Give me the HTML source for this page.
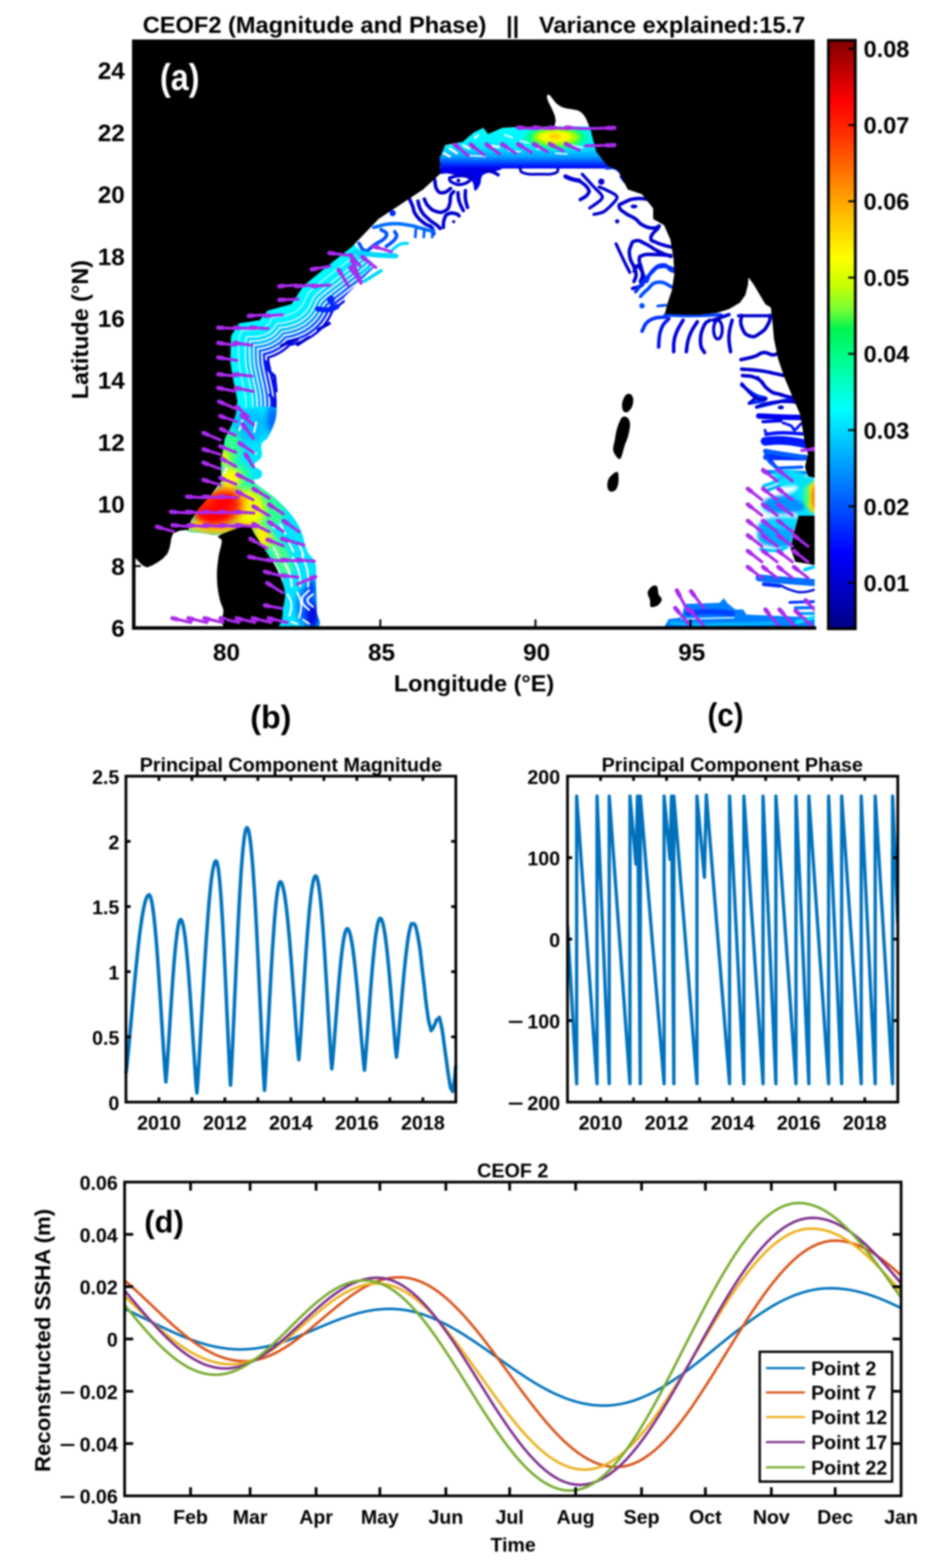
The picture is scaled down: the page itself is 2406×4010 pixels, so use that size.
<!DOCTYPE html>
<html lang="en"><head><meta charset="utf-8"><title>CEOF2 figure</title>
<style>html,body{margin:0;padding:0;background:#fff}body{width:2406px;height:4010px}svg{display:block;font-family:'Liberation Sans', Arial, Helvetica, sans-serif}</style>
</head><body>
<svg width="2406" height="4010" viewBox="0 0 2406 4010">
<defs><filter id="soft" color-interpolation-filters="sRGB" x="-2%" y="-2%" width="104%" height="104%" filterUnits="userSpaceOnUse" primitiveUnits="userSpaceOnUse"><feGaussianBlur stdDeviation="2.3"/></filter></defs>
<rect width="2406" height="4010" fill="#fff"/>
<g filter="url(#soft)">
<clipPath id="cm"><rect x="338" y="101" width="1745" height="1505"/></clipPath>
<g clip-path="url(#cm)">
<g id="band">
<defs>
<filter id="b8" color-interpolation-filters="sRGB" x="300" y="80" width="1800" height="1560" filterUnits="userSpaceOnUse"><feGaussianBlur stdDeviation="8"/></filter>
<filter id="b4" color-interpolation-filters="sRGB" x="300" y="80" width="1800" height="1560" filterUnits="userSpaceOnUse"><feGaussianBlur stdDeviation="4"/></filter>
<linearGradient id="gN" x1="0" y1="0" x2="0" y2="1"><stop offset="0" stop-color="#00ffff"/><stop offset="0.5" stop-color="#00ecff"/><stop offset="0.72" stop-color="#00a0ff"/><stop offset="0.9" stop-color="#0030ff"/><stop offset="1" stop-color="#0000f0"/></linearGradient>
</defs>
<clipPath id="cA"><path d="M560 800 L905 625 L960 680 L880 760 L900 900 L760 1070 L560 1070 Z"/></clipPath>
<g clip-path="url(#cA)">
<path d="M1010.0 530.0 C1001.6 536.0 990.0 539.8 968.0 560.0 C946.0 580.2 925.2 607.6 900.0 631.0 C874.8 654.4 866.6 657.2 842.0 677.0 C817.4 696.8 796.4 709.8 777.0 730.0 C757.6 750.2 763.6 765.1 745.0 778.0 C726.4 790.9 700.2 786.3 684.0 794.5 C667.8 802.7 678.6 812.5 664.0 819.0 C649.4 825.5 625.6 819.0 611.0 827.0 C596.4 835.0 595.4 839.6 591.0 859.0 C586.6 878.4 588.2 903.0 589.0 924.0 C589.8 945.0 591.4 943.8 595.0 964.0 C598.6 984.2 605.4 1005.8 607.0 1025.0 C608.6 1044.2 605.2 1048.0 603.0 1060.0 C600.8 1072.0 597.4 1080.0 596.0 1085.0" fill="none" stroke="#0000e0" stroke-width="200.2" stroke-linecap="butt" stroke-linejoin="round"/>
<path d="M1010.0 530.0 C1001.6 536.0 990.0 539.8 968.0 560.0 C946.0 580.2 925.2 607.6 900.0 631.0 C874.8 654.4 866.6 657.2 842.0 677.0 C817.4 696.8 796.4 709.8 777.0 730.0 C757.6 750.2 763.6 765.1 745.0 778.0 C726.4 790.9 700.2 786.3 684.0 794.5 C667.8 802.7 678.6 812.5 664.0 819.0 C649.4 825.5 625.6 819.0 611.0 827.0 C596.4 835.0 595.4 839.6 591.0 859.0 C586.6 878.4 588.2 903.0 589.0 924.0 C589.8 945.0 591.4 943.8 595.0 964.0 C598.6 984.2 605.4 1005.8 607.0 1025.0 C608.6 1044.2 605.2 1048.0 603.0 1060.0 C600.8 1072.0 597.4 1080.0 596.0 1085.0" fill="none" stroke="#fff" stroke-width="188.1" stroke-linecap="butt" stroke-linejoin="round"/>
<path d="M1010.0 530.0 C1001.6 536.0 990.0 539.8 968.0 560.0 C946.0 580.2 925.2 607.6 900.0 631.0 C874.8 654.4 866.6 657.2 842.0 677.0 C817.4 696.8 796.4 709.8 777.0 730.0 C757.6 750.2 763.6 765.1 745.0 778.0 C726.4 790.9 700.2 786.3 684.0 794.5 C667.8 802.7 678.6 812.5 664.0 819.0 C649.4 825.5 625.6 819.0 611.0 827.0 C596.4 835.0 595.4 839.6 591.0 859.0 C586.6 878.4 588.2 903.0 589.0 924.0 C589.8 945.0 591.4 943.8 595.0 964.0 C598.6 984.2 605.4 1005.8 607.0 1025.0 C608.6 1044.2 605.2 1048.0 603.0 1060.0 C600.8 1072.0 597.4 1080.0 596.0 1085.0" fill="none" stroke="#0028ff" stroke-width="179.3" stroke-linecap="butt" stroke-linejoin="round"/>
<path d="M1010.0 530.0 C1001.6 536.0 990.0 539.8 968.0 560.0 C946.0 580.2 925.2 607.6 900.0 631.0 C874.8 654.4 866.6 657.2 842.0 677.0 C817.4 696.8 796.4 709.8 777.0 730.0 C757.6 750.2 763.6 765.1 745.0 778.0 C726.4 790.9 700.2 786.3 684.0 794.5 C667.8 802.7 678.6 812.5 664.0 819.0 C649.4 825.5 625.6 819.0 611.0 827.0 C596.4 835.0 595.4 839.6 591.0 859.0 C586.6 878.4 588.2 903.0 589.0 924.0 C589.8 945.0 591.4 943.8 595.0 964.0 C598.6 984.2 605.4 1005.8 607.0 1025.0 C608.6 1044.2 605.2 1048.0 603.0 1060.0 C600.8 1072.0 597.4 1080.0 596.0 1085.0" fill="none" stroke="#fff" stroke-width="167.2" stroke-linecap="butt" stroke-linejoin="round"/>
<path d="M1010.0 530.0 C1001.6 536.0 990.0 539.8 968.0 560.0 C946.0 580.2 925.2 607.6 900.0 631.0 C874.8 654.4 866.6 657.2 842.0 677.0 C817.4 696.8 796.4 709.8 777.0 730.0 C757.6 750.2 763.6 765.1 745.0 778.0 C726.4 790.9 700.2 786.3 684.0 794.5 C667.8 802.7 678.6 812.5 664.0 819.0 C649.4 825.5 625.6 819.0 611.0 827.0 C596.4 835.0 595.4 839.6 591.0 859.0 C586.6 878.4 588.2 903.0 589.0 924.0 C589.8 945.0 591.4 943.8 595.0 964.0 C598.6 984.2 605.4 1005.8 607.0 1025.0 C608.6 1044.2 605.2 1048.0 603.0 1060.0 C600.8 1072.0 597.4 1080.0 596.0 1085.0" fill="none" stroke="#0060ff" stroke-width="158.4" stroke-linecap="butt" stroke-linejoin="round"/>
<path d="M1010.0 530.0 C1001.6 536.0 990.0 539.8 968.0 560.0 C946.0 580.2 925.2 607.6 900.0 631.0 C874.8 654.4 866.6 657.2 842.0 677.0 C817.4 696.8 796.4 709.8 777.0 730.0 C757.6 750.2 763.6 765.1 745.0 778.0 C726.4 790.9 700.2 786.3 684.0 794.5 C667.8 802.7 678.6 812.5 664.0 819.0 C649.4 825.5 625.6 819.0 611.0 827.0 C596.4 835.0 595.4 839.6 591.0 859.0 C586.6 878.4 588.2 903.0 589.0 924.0 C589.8 945.0 591.4 943.8 595.0 964.0 C598.6 984.2 605.4 1005.8 607.0 1025.0 C608.6 1044.2 605.2 1048.0 603.0 1060.0 C600.8 1072.0 597.4 1080.0 596.0 1085.0" fill="none" stroke="#fff" stroke-width="146.3" stroke-linecap="butt" stroke-linejoin="round"/>
<path d="M1010.0 530.0 C1001.6 536.0 990.0 539.8 968.0 560.0 C946.0 580.2 925.2 607.6 900.0 631.0 C874.8 654.4 866.6 657.2 842.0 677.0 C817.4 696.8 796.4 709.8 777.0 730.0 C757.6 750.2 763.6 765.1 745.0 778.0 C726.4 790.9 700.2 786.3 684.0 794.5 C667.8 802.7 678.6 812.5 664.0 819.0 C649.4 825.5 625.6 819.0 611.0 827.0 C596.4 835.0 595.4 839.6 591.0 859.0 C586.6 878.4 588.2 903.0 589.0 924.0 C589.8 945.0 591.4 943.8 595.0 964.0 C598.6 984.2 605.4 1005.8 607.0 1025.0 C608.6 1044.2 605.2 1048.0 603.0 1060.0 C600.8 1072.0 597.4 1080.0 596.0 1085.0" fill="none" stroke="#0090ff" stroke-width="137.5" stroke-linecap="butt" stroke-linejoin="round"/>
<path d="M1010.0 530.0 C1001.6 536.0 990.0 539.8 968.0 560.0 C946.0 580.2 925.2 607.6 900.0 631.0 C874.8 654.4 866.6 657.2 842.0 677.0 C817.4 696.8 796.4 709.8 777.0 730.0 C757.6 750.2 763.6 765.1 745.0 778.0 C726.4 790.9 700.2 786.3 684.0 794.5 C667.8 802.7 678.6 812.5 664.0 819.0 C649.4 825.5 625.6 819.0 611.0 827.0 C596.4 835.0 595.4 839.6 591.0 859.0 C586.6 878.4 588.2 903.0 589.0 924.0 C589.8 945.0 591.4 943.8 595.0 964.0 C598.6 984.2 605.4 1005.8 607.0 1025.0 C608.6 1044.2 605.2 1048.0 603.0 1060.0 C600.8 1072.0 597.4 1080.0 596.0 1085.0" fill="none" stroke="#fff" stroke-width="125.4" stroke-linecap="butt" stroke-linejoin="round"/>
<path d="M1010.0 530.0 C1001.6 536.0 990.0 539.8 968.0 560.0 C946.0 580.2 925.2 607.6 900.0 631.0 C874.8 654.4 866.6 657.2 842.0 677.0 C817.4 696.8 796.4 709.8 777.0 730.0 C757.6 750.2 763.6 765.1 745.0 778.0 C726.4 790.9 700.2 786.3 684.0 794.5 C667.8 802.7 678.6 812.5 664.0 819.0 C649.4 825.5 625.6 819.0 611.0 827.0 C596.4 835.0 595.4 839.6 591.0 859.0 C586.6 878.4 588.2 903.0 589.0 924.0 C589.8 945.0 591.4 943.8 595.0 964.0 C598.6 984.2 605.4 1005.8 607.0 1025.0 C608.6 1044.2 605.2 1048.0 603.0 1060.0 C600.8 1072.0 597.4 1080.0 596.0 1085.0" fill="none" stroke="#00b8ff" stroke-width="117.7" stroke-linecap="butt" stroke-linejoin="round"/>
<path d="M1010.0 530.0 C1001.6 536.0 990.0 539.8 968.0 560.0 C946.0 580.2 925.2 607.6 900.0 631.0 C874.8 654.4 866.6 657.2 842.0 677.0 C817.4 696.8 796.4 709.8 777.0 730.0 C757.6 750.2 763.6 765.1 745.0 778.0 C726.4 790.9 700.2 786.3 684.0 794.5 C667.8 802.7 678.6 812.5 664.0 819.0 C649.4 825.5 625.6 819.0 611.0 827.0 C596.4 835.0 595.4 839.6 591.0 859.0 C586.6 878.4 588.2 903.0 589.0 924.0 C589.8 945.0 591.4 943.8 595.0 964.0 C598.6 984.2 605.4 1005.8 607.0 1025.0 C608.6 1044.2 605.2 1048.0 603.0 1060.0 C600.8 1072.0 597.4 1080.0 596.0 1085.0" fill="none" stroke="#fff" stroke-width="104.5" stroke-linecap="butt" stroke-linejoin="round"/>
<path d="M1010.0 530.0 C1001.6 536.0 990.0 539.8 968.0 560.0 C946.0 580.2 925.2 607.6 900.0 631.0 C874.8 654.4 866.6 657.2 842.0 677.0 C817.4 696.8 796.4 709.8 777.0 730.0 C757.6 750.2 763.6 765.1 745.0 778.0 C726.4 790.9 700.2 786.3 684.0 794.5 C667.8 802.7 678.6 812.5 664.0 819.0 C649.4 825.5 625.6 819.0 611.0 827.0 C596.4 835.0 595.4 839.6 591.0 859.0 C586.6 878.4 588.2 903.0 589.0 924.0 C589.8 945.0 591.4 943.8 595.0 964.0 C598.6 984.2 605.4 1005.8 607.0 1025.0 C608.6 1044.2 605.2 1048.0 603.0 1060.0 C600.8 1072.0 597.4 1080.0 596.0 1085.0" fill="none" stroke="#00d8ff" stroke-width="96.8" stroke-linecap="butt" stroke-linejoin="round"/>
<path d="M1010.0 530.0 C1001.6 536.0 990.0 539.8 968.0 560.0 C946.0 580.2 925.2 607.6 900.0 631.0 C874.8 654.4 866.6 657.2 842.0 677.0 C817.4 696.8 796.4 709.8 777.0 730.0 C757.6 750.2 763.6 765.1 745.0 778.0 C726.4 790.9 700.2 786.3 684.0 794.5 C667.8 802.7 678.6 812.5 664.0 819.0 C649.4 825.5 625.6 819.0 611.0 827.0 C596.4 835.0 595.4 839.6 591.0 859.0 C586.6 878.4 588.2 903.0 589.0 924.0 C589.8 945.0 591.4 943.8 595.0 964.0 C598.6 984.2 605.4 1005.8 607.0 1025.0 C608.6 1044.2 605.2 1048.0 603.0 1060.0 C600.8 1072.0 597.4 1080.0 596.0 1085.0" fill="none" stroke="#e8ffff" stroke-width="81.4" stroke-linecap="butt" stroke-linejoin="round"/>
<path d="M1010.0 530.0 C1001.6 536.0 990.0 539.8 968.0 560.0 C946.0 580.2 925.2 607.6 900.0 631.0 C874.8 654.4 866.6 657.2 842.0 677.0 C817.4 696.8 796.4 709.8 777.0 730.0 C757.6 750.2 763.6 765.1 745.0 778.0 C726.4 790.9 700.2 786.3 684.0 794.5 C667.8 802.7 678.6 812.5 664.0 819.0 C649.4 825.5 625.6 819.0 611.0 827.0 C596.4 835.0 595.4 839.6 591.0 859.0 C586.6 878.4 588.2 903.0 589.0 924.0 C589.8 945.0 591.4 943.8 595.0 964.0 C598.6 984.2 605.4 1005.8 607.0 1025.0 C608.6 1044.2 605.2 1048.0 603.0 1060.0 C600.8 1072.0 597.4 1080.0 596.0 1085.0" fill="none" stroke="#00f0ff" stroke-width="74.8" stroke-linecap="butt" stroke-linejoin="round"/>
<path d="M1010.0 530.0 C1001.6 536.0 990.0 539.8 968.0 560.0 C946.0 580.2 925.2 607.6 900.0 631.0 C874.8 654.4 866.6 657.2 842.0 677.0 C817.4 696.8 796.4 709.8 777.0 730.0 C757.6 750.2 763.6 765.1 745.0 778.0 C726.4 790.9 700.2 786.3 684.0 794.5 C667.8 802.7 678.6 812.5 664.0 819.0 C649.4 825.5 625.6 819.0 611.0 827.0 C596.4 835.0 595.4 839.6 591.0 859.0 C586.6 878.4 588.2 903.0 589.0 924.0 C589.8 945.0 591.4 943.8 595.0 964.0 C598.6 984.2 605.4 1005.8 607.0 1025.0 C608.6 1044.2 605.2 1048.0 603.0 1060.0 C600.8 1072.0 597.4 1080.0 596.0 1085.0" fill="none" stroke="#c8ffff" stroke-width="46.2" stroke-linecap="butt" stroke-linejoin="round"/>
<path d="M1010.0 530.0 C1001.6 536.0 990.0 539.8 968.0 560.0 C946.0 580.2 925.2 607.6 900.0 631.0 C874.8 654.4 866.6 657.2 842.0 677.0 C817.4 696.8 796.4 709.8 777.0 730.0 C757.6 750.2 763.6 765.1 745.0 778.0 C726.4 790.9 700.2 786.3 684.0 794.5 C667.8 802.7 678.6 812.5 664.0 819.0 C649.4 825.5 625.6 819.0 611.0 827.0 C596.4 835.0 595.4 839.6 591.0 859.0 C586.6 878.4 588.2 903.0 589.0 924.0 C589.8 945.0 591.4 943.8 595.0 964.0 C598.6 984.2 605.4 1005.8 607.0 1025.0 C608.6 1044.2 605.2 1048.0 603.0 1060.0 C600.8 1072.0 597.4 1080.0 596.0 1085.0" fill="none" stroke="#00f8ff" stroke-width="40.7" stroke-linecap="butt" stroke-linejoin="round"/>
</g>
<ellipse cx="846.0" cy="766.0" rx="10.0" ry="10.0" fill="#0028ff"/>
<path d="M812.0 790.0 C819.5 790.5 826.7 793.6 840.0 792.0 C853.3 790.4 856.1 786.1 862.0 784.0" fill="none" stroke="#0020ff" stroke-width="13.0" stroke-linecap="round" stroke-linejoin="round"/>
<path d="M846.0 770.0 L850.0 784.0" fill="none" stroke="#0028ff" stroke-width="9.0" stroke-linecap="round" stroke-linejoin="round"/>
<path d="M813.5 843.0 L841.8 827.0" fill="none" stroke="#0000d0" stroke-width="8.0" stroke-linecap="round" stroke-linejoin="round"/>
<path d="M761.0 881.4 L789.0 863.0" fill="none" stroke="#0000d0" stroke-width="8.0" stroke-linecap="round" stroke-linejoin="round"/>
<path d="M720.0 884.0 L742.0 874.0" fill="none" stroke="#0000d0" stroke-width="8.0" stroke-linecap="round" stroke-linejoin="round"/>
<path d="M740.0 876.0 L760.0 868.0" fill="none" stroke="#0000d0" stroke-width="8.0" stroke-linecap="round" stroke-linejoin="round"/>
<path d="M680.0 925.0 C681.6 930.3 680.7 935.7 686.0 945.0 C691.3 954.3 696.3 956.0 700.0 960.0" fill="none" stroke="#0010e8" stroke-width="8.0" stroke-linecap="round" stroke-linejoin="round"/>
<path d="M702.0 962.0 L706.0 1000.0" fill="none" stroke="#0010e8" stroke-width="8.0" stroke-linecap="round" stroke-linejoin="round"/>
<path d="M690.0 1010.0 C692.7 1015.3 700.0 1019.3 700.0 1030.0 C700.0 1040.7 692.7 1044.7 690.0 1050.0" fill="none" stroke="#0010e8" stroke-width="8.0" stroke-linecap="round" stroke-linejoin="round"/>
<clipPath id="cS"><path d="M603.0 1050.0 C582.8 1058.4 597.8 1068.2 591.0 1082.0 C584.2 1095.8 574.0 1101.8 569.0 1119.0 C564.0 1136.2 567.0 1154.0 566.0 1168.0 C565.0 1182.0 563.4 1178.2 564.0 1189.0 C564.6 1199.8 570.2 1210.6 569.0 1222.0 C567.8 1233.4 566.0 1235.2 558.0 1246.0 C550.0 1256.8 540.2 1264.6 529.0 1276.0 C517.8 1287.4 510.2 1292.2 502.0 1303.0 C493.8 1313.8 492.8 1319.2 488.0 1330.0 C483.2 1340.8 471.6 1350.2 478.0 1357.0 C484.4 1363.8 503.6 1361.8 520.0 1364.0 C536.4 1366.2 542.6 1370.6 560.0 1368.0 C577.4 1365.4 591.9 1356.0 607.0 1351.0 C622.1 1346.0 626.6 1339.8 635.6 1343.0 C644.6 1346.2 643.7 1354.9 651.8 1367.0 C659.9 1379.1 665.6 1387.5 676.0 1403.7 C686.4 1419.9 695.1 1431.8 704.0 1448.0 C712.9 1464.2 715.6 1470.7 720.5 1484.5 C725.4 1498.3 727.8 1503.8 728.6 1517.0 C729.4 1530.2 730.2 1532.9 724.5 1550.7 C718.8 1568.5 683.3 1594.9 700.0 1606.0 C716.7 1617.1 786.0 1615.2 808.0 1606.0 C830.0 1596.8 810.0 1583.2 810.0 1560.0 C810.0 1536.8 808.8 1514.0 808.0 1490.0 C807.2 1466.0 810.6 1456.4 806.0 1440.0 C801.4 1423.6 792.4 1424.8 785.0 1408.0 C777.6 1391.2 777.6 1375.0 769.0 1356.0 C760.4 1337.0 756.0 1330.2 742.0 1313.0 C728.0 1295.8 717.4 1286.2 699.0 1270.0 C680.6 1253.8 656.6 1241.6 650.0 1232.0 C643.4 1222.4 662.2 1227.2 666.0 1222.0 C669.8 1216.8 672.2 1212.6 669.0 1206.0 C665.8 1199.4 650.0 1196.6 650.0 1189.0 C650.0 1181.4 665.2 1178.6 669.0 1168.0 C672.8 1157.4 665.2 1146.8 669.0 1136.0 C672.8 1125.2 680.4 1129.2 688.0 1114.0 C695.6 1098.8 706.2 1074.8 707.0 1060.0 C707.8 1045.2 712.8 1042.0 692.0 1040.0 C671.2 1038.0 623.2 1041.6 603.0 1050.0 Z"/></clipPath>
<g clip-path="url(#cS)">
<rect x="440" y="1030" width="400" height="590" fill="#00e4ff"/>
<g filter="url(#b8)">
<ellipse cx="785" cy="1550" rx="26" ry="50" fill="#0060ff" transform="rotate(0 785 1550)"/>
<ellipse cx="800" cy="1575" rx="16" ry="35" fill="#0000e0" transform="rotate(0 800 1575)"/>
<ellipse cx="796" cy="1505" rx="12" ry="25" fill="#0030f0" transform="rotate(0 796 1505)"/>
<ellipse cx="697" cy="1072" rx="14" ry="36" fill="#0060ff" transform="rotate(0 697 1072)"/>
<ellipse cx="640" cy="1090" rx="45" ry="40" fill="#00c0ff" transform="rotate(0 640 1090)"/>
<ellipse cx="590" cy="1150" rx="26" ry="50" fill="#30ff90" transform="rotate(5 590 1150)"/>
<ellipse cx="612" cy="1215" rx="30" ry="30" fill="#20ffa0" transform="rotate(0 612 1215)"/>
<ellipse cx="670" cy="1290" rx="40" ry="70" fill="#30ff90" transform="rotate(-45 670 1290)"/>
<ellipse cx="715" cy="1420" rx="22" ry="60" fill="#50ff80" transform="rotate(-25 715 1420)"/>
<ellipse cx="575" cy="1170" rx="14" ry="22" fill="#e0ff00" transform="rotate(0 575 1170)"/>
<ellipse cx="590" cy="1222" rx="28" ry="26" fill="#ffff00" transform="rotate(0 590 1222)"/>
<ellipse cx="632" cy="1300" rx="45" ry="50" fill="#f0ff00" transform="rotate(-30 632 1300)"/>
<ellipse cx="672" cy="1372" rx="22" ry="30" fill="#fff000" transform="rotate(-30 672 1372)"/>
<ellipse cx="560" cy="1296" rx="70" ry="52" fill="#ff9800" transform="rotate(-15 560 1296)"/>
<ellipse cx="556" cy="1300" rx="58" ry="40" fill="#ff2000" transform="rotate(-18 556 1300)"/>
<ellipse cx="545" cy="1318" rx="44" ry="20" fill="#ff0000" transform="rotate(-5 545 1318)"/>
<ellipse cx="575" cy="1280" rx="30" ry="18" fill="#ff0000" transform="rotate(-30 575 1280)"/>
<ellipse cx="500" cy="1345" rx="30" ry="14" fill="#ffe000" transform="rotate(0 500 1345)"/>
<ellipse cx="560" cy="1356" rx="60" ry="12" fill="#ffc000" transform="rotate(0 560 1356)"/>
<ellipse cx="620" cy="1350" rx="30" ry="12" fill="#ffa000" transform="rotate(0 620 1350)"/>
</g>
<path d="M700.0 1440.0 C704.3 1448.0 710.1 1454.0 716.0 1470.0 C721.9 1486.0 720.4 1492.0 722.0 1500.0" fill="none" stroke="#fff" stroke-width="5.0" stroke-linecap="round" stroke-linejoin="round"/>
<path d="M722.0 1430.0 C726.8 1439.3 733.6 1446.3 740.0 1465.0 C746.4 1483.7 744.4 1490.7 746.0 1500.0" fill="none" stroke="#fff" stroke-width="5.0" stroke-linecap="round" stroke-linejoin="round"/>
<path d="M748.0 1425.0 C752.3 1434.9 758.7 1442.0 764.0 1462.0 C769.3 1482.0 766.9 1489.9 768.0 1500.0" fill="none" stroke="#fff" stroke-width="5.0" stroke-linecap="round" stroke-linejoin="round"/>
<path d="M772.0 1420.0 C775.7 1430.7 781.7 1438.7 786.0 1460.0 C790.3 1481.3 787.5 1489.3 788.0 1500.0" fill="none" stroke="#fff" stroke-width="5.0" stroke-linecap="round" stroke-linejoin="round"/>
<path d="M735.0 1520.0 C737.7 1526.7 743.7 1530.3 745.0 1545.0 C746.3 1559.7 741.3 1567.0 740.0 1575.0" fill="none" stroke="#fff" stroke-width="5.0" stroke-linecap="round" stroke-linejoin="round"/>
<path d="M760.0 1515.0 C762.7 1523.0 768.7 1527.7 770.0 1545.0 C771.3 1562.3 766.3 1570.7 765.0 1580.0" fill="none" stroke="#fff" stroke-width="5.0" stroke-linecap="round" stroke-linejoin="round"/>
<path d="M790.0 1510.0 C785.2 1516.7 772.0 1521.7 772.0 1535.0 C772.0 1548.3 785.2 1553.3 790.0 1560.0" fill="none" stroke="#fff" stroke-width="5.0" stroke-linecap="round" stroke-linejoin="round"/>
<path d="M800.0 1520.0 C796.3 1524.0 786.0 1526.5 786.0 1535.0 C786.0 1543.5 796.3 1547.5 800.0 1552.0" fill="none" stroke="#fff" stroke-width="5.0" stroke-linecap="round" stroke-linejoin="round"/>
<path d="M700.0 1400.0 L712.0 1425.0" fill="none" stroke="#fff" stroke-width="5.0" stroke-linecap="round" stroke-linejoin="round"/>
<path d="M735.0 1380.0 L750.0 1410.0" fill="none" stroke="#fff" stroke-width="5.0" stroke-linecap="round" stroke-linejoin="round"/>
<path d="M764.0 1390.0 L776.0 1420.0" fill="none" stroke="#fff" stroke-width="5.0" stroke-linecap="round" stroke-linejoin="round"/>
<path d="M745.0 1590.0 L760.0 1596.0" fill="none" stroke="#fff" stroke-width="5.0" stroke-linecap="round" stroke-linejoin="round"/>
<path d="M775.0 1585.0 L790.0 1595.0" fill="none" stroke="#fff" stroke-width="5.0" stroke-linecap="round" stroke-linejoin="round"/>
<path d="M620.0 1075.0 L612.0 1100.0" fill="none" stroke="#fff" stroke-width="5.0" stroke-linecap="round" stroke-linejoin="round"/>
<path d="M655.0 1080.0 L650.0 1105.0" fill="none" stroke="#fff" stroke-width="5.0" stroke-linecap="round" stroke-linejoin="round"/>
<path d="M640.0 1150.0 L655.0 1160.0" fill="none" stroke="#fff" stroke-width="5.0" stroke-linecap="round" stroke-linejoin="round"/>
<path d="M580.0 1195.0 L575.0 1210.0" fill="none" stroke="#fff" stroke-width="5.0" stroke-linecap="round" stroke-linejoin="round"/>
<path d="M690.0 1330.0 L700.0 1350.0" fill="none" stroke="#fff" stroke-width="5.0" stroke-linecap="round" stroke-linejoin="round"/>
<path d="M716.0 1340.0 L730.0 1365.0" fill="none" stroke="#fff" stroke-width="5.0" stroke-linecap="round" stroke-linejoin="round"/>
</g>
<path d="M1122.0 392.0 L1140.0 372.0 L1183.0 363.0 L1211.0 339.0 L1235.6 327.0 L1248.0 343.0 L1284.0 327.0 L1320.0 325.0 L1417.5 323.0 L1507.0 323.0 L1527.0 371.0 L1552.0 422.0 L1560.0 431.0 L1127.0 431.0 L1120.0 410.0 Z" fill="url(#gN)"/>
<clipPath id="cN"><path d="M1122.0 392.0 L1140.0 372.0 L1183.0 363.0 L1211.0 339.0 L1235.6 327.0 L1248.0 343.0 L1284.0 327.0 L1320.0 325.0 L1417.5 323.0 L1507.0 323.0 L1527.0 371.0 L1552.0 422.0 L1560.0 431.0 L1127.0 431.0 L1120.0 410.0 Z"/></clipPath>
<g clip-path="url(#cN)" filter="url(#b4)">
<ellipse cx="1422" cy="352" rx="80" ry="30" fill="#00ff90"/>
<ellipse cx="1422" cy="351" rx="60" ry="22" fill="#a0ff00"/>
<ellipse cx="1420" cy="350" rx="42" ry="15" fill="#ffff00"/>
<ellipse cx="1418" cy="349" rx="16" ry="7" fill="#ffc800"/>
</g>
<path d="M1290.0 345.0 L1310.0 352.0" fill="none" stroke="#e8ffff" stroke-width="4.0" stroke-linecap="round" stroke-linejoin="round"/>
<path d="M1330.0 360.0 L1352.0 366.0" fill="none" stroke="#e8ffff" stroke-width="4.0" stroke-linecap="round" stroke-linejoin="round"/>
<path d="M1465.0 372.0 L1490.0 378.0" fill="none" stroke="#e8ffff" stroke-width="4.0" stroke-linecap="round" stroke-linejoin="round"/>
<path d="M1372.0 380.0 L1395.0 384.0" fill="none" stroke="#e8ffff" stroke-width="4.0" stroke-linecap="round" stroke-linejoin="round"/>
<path d="M1300.0 385.0 L1330.0 388.0" fill="none" stroke="#e8ffff" stroke-width="4.0" stroke-linecap="round" stroke-linejoin="round"/>
<path d="M1200.0 398.0 L1240.0 400.0" fill="none" stroke="#e8ffff" stroke-width="4.0" stroke-linecap="round" stroke-linejoin="round"/>
<path d="M1420.0 392.0 L1450.0 394.0" fill="none" stroke="#e8ffff" stroke-width="4.0" stroke-linecap="round" stroke-linejoin="round"/>
<path d="M1135.0 392.0 L1150.0 400.0" fill="none" stroke="#fff" stroke-width="6.0" stroke-linecap="round" stroke-linejoin="round"/>
<path d="M1150.0 380.0 L1168.0 392.0" fill="none" stroke="#fff" stroke-width="6.0" stroke-linecap="round" stroke-linejoin="round"/>
<path d="M1185.0 372.0 L1200.0 380.0" fill="none" stroke="#fff" stroke-width="6.0" stroke-linecap="round" stroke-linejoin="round"/>
<path d="M1250.0 372.0 L1275.0 376.0" fill="none" stroke="#fff" stroke-width="6.0" stroke-linecap="round" stroke-linejoin="round"/>
<path d="M1215.0 352.0 L1222.0 346.0" fill="none" stroke="#fff" stroke-width="6.0" stroke-linecap="round" stroke-linejoin="round"/>
<path d="M1122.6 430.8 C1148.6 428.5 1260.1 428.1 1278.9 430.8 C1297.8 433.5 1244.3 440.2 1235.8 447.0 C1227.3 453.7 1231.3 464.5 1227.7 471.2 C1224.1 478.0 1218.3 489.2 1214.2 487.4 C1210.2 485.6 1214.2 467.6 1203.5 460.4 C1192.7 453.2 1163.0 447.0 1149.5 444.3 C1136.1 441.6 1127.1 446.5 1122.6 444.3 C1118.1 442.0 1096.5 433.0 1122.6 430.8 Z" fill="#0000e8"/>
<path d="M1149.5 455.0 C1156.7 453.6 1162.1 449.6 1176.5 449.6 C1190.9 449.6 1202.0 449.3 1203.5 455.0 C1204.9 460.8 1194.8 468.3 1181.9 471.2 C1168.9 474.1 1163.6 470.1 1154.9 465.8 C1146.3 461.5 1151.0 457.9 1149.5 455.0" fill="none" stroke="#0000cc" stroke-width="8.0" stroke-linecap="round" stroke-linejoin="round"/>
<ellipse cx="1172.0" cy="462.0" rx="5.0" ry="5.0" fill="#0000cc"/>
<path d="M1047.1 508.9 C1049.3 514.0 1050.9 517.0 1055.2 527.8 C1059.5 538.6 1055.4 537.9 1063.3 549.4 C1071.2 560.9 1074.1 562.3 1084.9 570.9 C1095.6 579.6 1097.3 574.5 1103.7 581.7 C1110.2 588.9 1107.7 593.6 1109.1 597.9" fill="none" stroke="#0000cc" stroke-width="9.0" stroke-linecap="round" stroke-linejoin="round"/>
<path d="M1084.9 508.9 C1087.7 514.0 1087.0 519.2 1095.6 527.8 C1104.3 536.4 1105.7 538.4 1117.2 541.3 C1128.7 544.2 1130.1 543.6 1138.8 538.6 C1147.4 533.6 1145.9 532.5 1149.5 522.4 C1153.1 512.4 1149.4 509.5 1152.2 500.9 C1155.1 492.2 1158.2 493.0 1160.3 490.1" fill="none" stroke="#0000cc" stroke-width="9.0" stroke-linecap="round" stroke-linejoin="round"/>
<path d="M1068.7 514.3 C1070.8 520.8 1069.6 526.4 1076.8 538.6 C1084.0 550.8 1084.9 550.1 1095.6 560.2 C1106.4 570.2 1109.3 569.9 1117.2 576.3 C1125.1 582.8 1123.1 582.3 1125.3 584.4" fill="none" stroke="#0000cc" stroke-width="9.0" stroke-linecap="round" stroke-linejoin="round"/>
<path d="M1133.4 581.7 C1134.1 576.0 1132.5 569.5 1136.1 560.2 C1139.7 550.8 1138.9 550.3 1146.8 546.7 C1154.8 543.1 1158.5 545.2 1165.7 546.7 C1172.9 548.1 1171.6 550.6 1173.8 552.1" fill="none" stroke="#0000cc" stroke-width="9.0" stroke-linecap="round" stroke-linejoin="round"/>
<path d="M1171.1 492.8 C1171.8 498.5 1170.2 502.1 1173.8 514.3 C1177.4 526.6 1181.7 532.1 1184.6 538.6" fill="none" stroke="#0000cc" stroke-width="9.0" stroke-linecap="round" stroke-linejoin="round"/>
<path d="M1190.0 487.4 C1190.0 493.1 1188.5 497.4 1190.0 508.9 C1191.4 520.4 1193.9 524.8 1195.4 530.5" fill="none" stroke="#0000cc" stroke-width="9.0" stroke-linecap="round" stroke-linejoin="round"/>
<path d="M1111.8 460.4 C1113.2 466.9 1111.4 476.1 1117.2 484.7 C1122.9 493.3 1124.0 493.5 1133.4 492.8 C1142.7 492.1 1147.2 484.9 1152.2 482.0" fill="none" stroke="#0000cc" stroke-width="9.0" stroke-linecap="round" stroke-linejoin="round"/>
<path d="M1233.1 436.2 C1239.6 436.9 1246.6 436.0 1257.4 438.9 C1268.1 441.7 1269.2 444.8 1273.5 447.0" fill="none" stroke="#0000cc" stroke-width="9.0" stroke-linecap="round" stroke-linejoin="round"/>
<path d="M955.5 581.7 C967.7 579.2 976.9 573.7 1001.3 572.3 C1025.7 570.9 1027.7 573.5 1047.1 576.3 C1066.5 579.2 1057.5 578.8 1074.1 583.1 C1090.6 587.4 1099.8 590.0 1109.1 592.5" fill="none" stroke="#0070ff" stroke-width="9.0" stroke-linecap="round" stroke-linejoin="round"/>
<path d="M1063.3 587.1 L1061.9 606.0" fill="none" stroke="#0058ff" stroke-width="7.0" stroke-linecap="round" stroke-linejoin="round"/>
<path d="M1084.9 587.1 L1083.5 606.0" fill="none" stroke="#0058ff" stroke-width="7.0" stroke-linecap="round" stroke-linejoin="round"/>
<path d="M1106.4 587.1 L1105.1 606.0" fill="none" stroke="#0058ff" stroke-width="7.0" stroke-linecap="round" stroke-linejoin="round"/>
<ellipse cx="1004.0" cy="545.0" rx="8.0" ry="8.0" fill="#0030ff"/>
<ellipse cx="1160.0" cy="567.0" rx="4.0" ry="4.0" fill="#0000cc"/>
<path d="M974.3 587.1 C977.9 591.4 992.8 592.5 987.8 603.3 C982.8 614.1 969.8 617.5 955.5 627.5 C941.1 637.6 944.0 642.5 933.9 641.0 C923.8 639.6 922.0 627.2 917.7 622.2" fill="none" stroke="#0050ff" stroke-width="9.0" stroke-linecap="round" stroke-linejoin="round"/>
<path d="M1009.4 592.5 C1010.1 596.8 1017.8 598.6 1012.1 608.7 C1006.3 618.7 994.3 624.5 987.8 630.2" fill="none" stroke="#0050ff" stroke-width="9.0" stroke-linecap="round" stroke-linejoin="round"/>
<path d="M1004.0 638.3 C1009.0 634.7 1012.8 629.2 1022.9 624.9 C1032.9 620.5 1036.7 622.9 1041.7 622.2" fill="none" stroke="#00d8ff" stroke-width="8.0" stroke-linecap="round" stroke-linejoin="round"/>
<path d="M907.0 645.1 C921.3 646.9 932.8 649.3 960.9 651.8 C988.9 654.3 998.4 653.8 1012.1 654.5" fill="none" stroke="#00d8ff" stroke-width="13.0" stroke-linecap="round" stroke-linejoin="round"/>
<path d="M931.2 719.2 L974.3 692.2" fill="none" stroke="#00d8ff" stroke-width="9.0" stroke-linecap="round" stroke-linejoin="round"/>
<path d="M920.4 700.3 L942.0 684.2" fill="none" stroke="#00d8ff" stroke-width="9.0" stroke-linecap="round" stroke-linejoin="round"/>
<path d="M1329.6 430.7 C1332.5 433.9 1326.7 438.9 1340.4 442.8 C1354.1 446.7 1360.0 445.5 1380.9 445.5 C1401.8 445.5 1406.4 446.7 1418.6 442.8 C1430.8 438.9 1424.5 433.9 1426.7 430.7" fill="none" stroke="#0000cc" stroke-width="7.0" stroke-linecap="round" stroke-linejoin="round"/>
<path d="M1445.8 451.2 C1450.1 453.0 1452.7 455.1 1462.0 458.0 C1471.3 460.8 1475.8 460.9 1480.9 462.0" fill="none" stroke="#0000cc" stroke-width="11.0" stroke-linecap="round" stroke-linejoin="round"/>
<path d="M1480.9 462.0 C1486.6 467.0 1496.7 471.5 1502.4 480.9 C1508.2 490.2 1507.5 489.1 1502.4 497.0 C1497.4 504.9 1488.6 506.9 1483.6 510.5" fill="none" stroke="#0000cc" stroke-width="9.0" stroke-linecap="round" stroke-linejoin="round"/>
<path d="M1488.9 445.8 C1492.5 449.8 1509.1 467.6 1515.9 475.5 C1522.7 483.4 1541.2 497.6 1540.2 505.1 C1539.1 512.7 1512.1 528.5 1507.8 532.1" fill="none" stroke="#0000cc" stroke-width="8.0" stroke-linecap="round" stroke-linejoin="round"/>
<path d="M1532.1 478.2 C1534.6 479.2 1544.8 482.7 1550.9 486.3 C1557.1 489.8 1578.6 497.9 1577.9 505.1 C1577.2 512.3 1553.5 534.4 1545.6 540.2 C1537.6 545.9 1522.2 547.2 1518.6 548.2" fill="none" stroke="#0000cc" stroke-width="8.0" stroke-linecap="round" stroke-linejoin="round"/>
<ellipse cx="1537.5" cy="464.7" rx="8.0" ry="8.0" fill="#0000cc"/>
<path d="M1669.5 513.2 C1658.8 511.8 1649.2 506.4 1629.1 507.8 C1609.0 509.3 1606.3 512.8 1594.1 518.6 C1581.9 524.3 1581.9 522.2 1583.3 529.4 C1584.7 536.6 1588.7 537.6 1599.5 545.6 C1610.2 553.5 1612.2 551.1 1623.7 559.0 C1635.2 566.9 1630.4 568.7 1642.6 575.2 C1654.8 581.7 1658.0 582.6 1669.5 583.3 C1681.0 584.0 1681.4 579.3 1685.7 577.9" fill="none" stroke="#0000cc" stroke-width="9.0" stroke-linecap="round" stroke-linejoin="round"/>
<ellipse cx="1621.0" cy="528.0" rx="9.0" ry="5.0" fill="#0000cc"/>
<ellipse cx="1578.0" cy="566.0" rx="5.5" ry="5.5" fill="#0000cc"/>
<path d="M1683.0 583.3 C1678.0 589.8 1664.9 597.5 1664.2 607.5 C1663.4 617.6 1666.7 614.6 1680.3 621.0 C1694.0 627.5 1706.0 628.9 1715.4 631.8" fill="none" stroke="#0000cc" stroke-width="9.0" stroke-linecap="round" stroke-linejoin="round"/>
<path d="M1575.2 623.7 C1580.2 634.5 1584.7 644.7 1594.1 664.2 C1603.4 683.6 1605.9 687.9 1610.2 696.5" fill="none" stroke="#0000cc" stroke-width="8.0" stroke-linecap="round" stroke-linejoin="round"/>
<path d="M1715.4 656.1 C1706.7 652.5 1700.3 651.2 1683.0 642.6 C1665.8 634.0 1665.8 630.9 1650.7 623.7 C1635.6 616.5 1636.5 614.2 1626.4 615.6 C1616.4 617.1 1617.3 618.3 1612.9 629.1 C1608.6 639.9 1608.1 641.7 1610.2 656.1 C1612.4 670.4 1616.7 670.8 1621.0 683.0 C1625.3 695.2 1626.4 692.0 1626.4 701.9 C1626.4 711.7 1622.5 715.1 1621.0 719.9" fill="none" stroke="#0000cc" stroke-width="9.0" stroke-linecap="round" stroke-linejoin="round"/>
<path d="M1715.4 653.4 C1703.1 652.7 1688.9 650.7 1669.5 650.7 C1650.1 650.7 1651.9 649.8 1642.6 653.4 C1633.2 657.0 1635.2 655.5 1634.5 664.2 C1633.8 672.8 1637.7 674.9 1639.9 685.7 C1642.0 696.5 1643.3 695.5 1642.6 704.6 C1641.9 713.7 1638.6 715.8 1637.2 719.9" fill="none" stroke="#0000cc" stroke-width="9.0" stroke-linecap="round" stroke-linejoin="round"/>
<path d="M1734.2 695.1 C1729.2 694.1 1725.4 695.8 1715.4 691.1 C1705.3 686.4 1708.7 677.6 1696.5 677.6 C1684.3 677.6 1681.0 679.8 1669.5 691.1 C1658.0 702.4 1657.7 712.3 1653.4 719.9" fill="none" stroke="#0030ff" stroke-width="9.0" stroke-linecap="round" stroke-linejoin="round"/>
<path d="M1588.7 451.2 C1593.0 456.2 1594.1 462.2 1604.9 470.1 C1615.6 478.0 1622.6 478.0 1629.1 480.9" fill="none" stroke="#0000cc" stroke-width="9.0" stroke-linecap="round" stroke-linejoin="round"/>
<path d="M1680.3 532.1 C1679.6 537.1 1674.0 542.3 1677.6 550.9 C1681.2 559.6 1689.5 560.8 1693.8 564.4" fill="none" stroke="#0000cc" stroke-width="9.0" stroke-linecap="round" stroke-linejoin="round"/>
<path d="M1550.9 429.6 C1556.7 429.6 1562.4 426.1 1572.5 429.6 C1582.6 433.2 1584.4 439.5 1588.7 443.1" fill="none" stroke="#0030ff" stroke-width="9.0" stroke-linecap="round" stroke-linejoin="round"/>
<path d="M1621.3 693.4 C1624.5 690.2 1627.0 673.7 1633.4 681.3 C1639.9 688.8 1649.9 706.6 1645.6 721.7 C1641.2 736.8 1624.8 733.6 1617.3 737.9" fill="none" stroke="#0000cc" stroke-width="9.0" stroke-linecap="round" stroke-linejoin="round"/>
<path d="M1734.5 695.4 C1723.7 691.7 1713.5 679.7 1694.1 681.3 C1674.7 682.9 1680.1 684.3 1661.7 701.5 C1643.4 718.8 1635.0 734.1 1625.3 746.0" fill="none" stroke="#0030ff" stroke-width="9.0" stroke-linecap="round" stroke-linejoin="round"/>
<path d="M1718.3 733.9 C1708.6 730.6 1699.2 719.6 1681.9 721.7 C1664.7 723.9 1665.5 732.2 1653.6 741.9 C1641.8 751.6 1641.8 753.8 1637.5 758.1" fill="none" stroke="#0050ff" stroke-width="9.0" stroke-linecap="round" stroke-linejoin="round"/>
<ellipse cx="1641.5" cy="782.0" rx="7.0" ry="7.0" fill="#0050ff"/>
<path d="M1681.9 782.4 L1702.2 780.4" fill="none" stroke="#0050ff" stroke-width="7.0" stroke-linecap="round" stroke-linejoin="round"/>
<path d="M1700.1 805.4 C1716.8 806.0 1724.5 807.6 1762.8 807.4 C1801.1 807.3 1822.1 805.7 1843.7 805.0" fill="none" stroke="#0040ff" stroke-width="8.0" stroke-linecap="round" stroke-linejoin="round"/>
<path d="M1641.5 847.1 C1646.9 839.5 1645.6 828.5 1661.7 818.8 C1677.9 809.1 1691.4 812.8 1702.2 810.7" fill="none" stroke="#0030ff" stroke-width="9.0" stroke-linecap="round" stroke-linejoin="round"/>
<path d="M1684.0 887.5 C1685.6 875.6 1683.0 862.4 1690.0 843.0 C1697.0 823.6 1704.9 822.3 1710.2 814.7" fill="none" stroke="#0010f0" stroke-width="9.0" stroke-linecap="round" stroke-linejoin="round"/>
<path d="M1722.4 899.6 C1723.5 888.8 1719.9 880.8 1726.4 859.2 C1732.9 837.6 1741.2 829.5 1746.6 818.8" fill="none" stroke="#0000e0" stroke-width="9.0" stroke-linecap="round" stroke-linejoin="round"/>
<path d="M1754.7 899.6 C1756.9 888.8 1755.3 879.7 1762.8 859.2 C1770.4 838.7 1777.6 832.5 1783.0 822.8" fill="none" stroke="#0000cc" stroke-width="9.0" stroke-linecap="round" stroke-linejoin="round"/>
<path d="M1801.2 901.6 C1798.5 894.6 1791.6 893.2 1791.1 875.4 C1790.6 857.6 1792.7 850.0 1799.2 834.9 C1805.7 819.8 1811.1 823.1 1815.4 818.8" fill="none" stroke="#0000cc" stroke-width="9.0" stroke-linecap="round" stroke-linejoin="round"/>
<ellipse cx="1835.6" cy="843" rx="11" ry="24" fill="none" stroke="#0000cc" stroke-width="8"/>
<path d="M1823.5 818.8 L1863.9 804.6" fill="none" stroke="#0000cc" stroke-width="9.0" stroke-linecap="round" stroke-linejoin="round"/>
<path d="M1867.9 899.6 C1866.9 888.8 1862.8 880.8 1863.9 859.2 C1865.0 837.6 1869.8 829.5 1872.0 818.8" fill="none" stroke="#0000cc" stroke-width="9.0" stroke-linecap="round" stroke-linejoin="round"/>
<path d="M1896.2 806.6 C1896.2 814.2 1890.8 820.9 1896.2 834.9 C1901.6 849.0 1903.5 854.9 1916.4 859.2 C1929.4 863.5 1931.8 859.7 1944.7 851.1 C1957.7 842.5 1958.5 838.7 1965.0 826.8 C1971.4 815.0 1967.9 812.0 1969.0 806.6" fill="none" stroke="#0000cc" stroke-width="9.0" stroke-linecap="round" stroke-linejoin="round"/>
<path d="M1888.1 807.4 L1971.0 807.4" fill="none" stroke="#0000cc" stroke-width="8.0" stroke-linecap="round" stroke-linejoin="round"/>
<path d="M1894.2 919.8 C1903.4 917.7 1912.9 916.6 1928.6 911.8 C1944.2 906.9 1939.9 902.7 1952.8 901.6 C1965.8 900.6 1966.3 908.3 1977.1 907.7 C1987.9 907.2 1989.0 901.8 1993.3 899.6" fill="none" stroke="#0000cc" stroke-width="9.0" stroke-linecap="round" stroke-linejoin="round"/>
<path d="M1896.2 944.1 C1909.2 945.2 1921.0 944.9 1944.7 948.1 C1968.5 951.4 1969.5 953.0 1985.2 956.2 C2000.8 959.5 1998.5 959.2 2003.4 960.3" fill="none" stroke="#0000cc" stroke-width="9.0" stroke-linecap="round" stroke-linejoin="round"/>
<path d="M1898.3 960.3 C1908.5 962.4 1918.9 958.7 1936.7 968.4 C1954.5 978.1 1949.9 985.9 1965.0 996.7 C1980.1 1007.4 1977.1 1003.4 1993.3 1008.8 C2009.4 1014.2 2017.0 1014.7 2025.6 1016.9" fill="none" stroke="#0000cc" stroke-width="9.0" stroke-linecap="round" stroke-linejoin="round"/>
<path d="M1896.2 984.5 C1904.9 991.0 1912.4 999.1 1928.6 1008.8 C1944.7 1018.5 1960.1 1015.0 1956.9 1020.9 C1953.6 1026.9 1927.2 1028.3 1916.4 1031.0" fill="none" stroke="#0030ff" stroke-width="9.0" stroke-linecap="round" stroke-linejoin="round"/>
<path d="M1934.6 1041.1 C1948.1 1037.9 1957.7 1035.5 1985.2 1029.0 C2012.7 1022.5 2023.7 1020.1 2037.7 1016.9" fill="none" stroke="#0030ff" stroke-width="9.0" stroke-linecap="round" stroke-linejoin="round"/>
<path d="M1896.8 981.6 C1906.1 990.9 1915.3 1006.5 1931.8 1016.6 C1948.3 1026.7 1951.6 1018.6 1958.8 1019.3" fill="none" stroke="#0000cc" stroke-width="8.0" stroke-linecap="round" stroke-linejoin="round"/>
<path d="M1931.8 1018.0 L1915.6 1031.4" fill="none" stroke="#0000cc" stroke-width="8.0" stroke-linecap="round" stroke-linejoin="round"/>
<path d="M1937.2 965.4 C1945.8 974.7 1953.7 988.9 1969.5 1000.4 C1985.4 1011.9 1979.2 1002.8 1996.5 1008.5 C2013.7 1014.3 2024.2 1018.4 2034.2 1022.0" fill="none" stroke="#0000cc" stroke-width="8.0" stroke-linecap="round" stroke-linejoin="round"/>
<path d="M1934.5 1040.9 C1943.8 1038.0 1945.8 1033.7 1969.5 1030.1 C1993.3 1026.5 2004.0 1025.9 2023.5 1027.4 C2042.9 1028.8 2037.3 1033.3 2042.3 1035.5" fill="none" stroke="#0000cc" stroke-width="8.0" stroke-linecap="round" stroke-linejoin="round"/>
<ellipse cx="1996.5" cy="1042.0" rx="8.0" ry="5.0" fill="#0000cc"/>
<path d="M1939.9 1063.8 C1955.0 1064.5 1966.3 1065.4 1996.5 1066.5 C2026.7 1067.5 2038.0 1067.5 2053.1 1067.8" fill="none" stroke="#0000f0" stroke-width="14.0" stroke-linecap="round" stroke-linejoin="round"/>
<path d="M1950.7 1078.6 L1996.5 1075.9" fill="none" stroke="#0000f0" stroke-width="8.0" stroke-linecap="round" stroke-linejoin="round"/>
<path d="M2001.9 1081.3 C2004.0 1082.1 2020.5 1087.5 2023.5 1089.4 C2026.4 1091.3 2029.1 1100.7 2031.5 1100.2 C2034.0 1099.6 2046.1 1085.6 2047.7 1084.0" fill="none" stroke="#0010ff" stroke-width="7.0" stroke-linecap="round" stroke-linejoin="round"/>
<path d="M1956.1 1100.2 L1958.8 1110.9" fill="none" stroke="#0010ff" stroke-width="7.0" stroke-linecap="round" stroke-linejoin="round"/>
<path d="M1958.8 1110.9 C1968.8 1109.9 1972.1 1107.3 1996.5 1106.9 C2020.9 1106.5 2036.0 1108.9 2050.4 1109.6" fill="none" stroke="#0010ff" stroke-width="9.0" stroke-linecap="round" stroke-linejoin="round"/>
<path d="M1956.1 1128.5 C1970.4 1128.1 1979.1 1124.6 2010.0 1127.1 C2040.9 1129.6 2055.4 1135.0 2072.0 1137.9" fill="none" stroke="#0018ff" stroke-width="22.0" stroke-linecap="round" stroke-linejoin="round"/>
<path d="M1956.1 1154.1 C1958.9 1159.1 1958.9 1161.4 1966.8 1172.9 C1974.8 1184.4 1980.7 1190.7 1985.7 1197.2" fill="none" stroke="#0030ff" stroke-width="9.0" stroke-linecap="round" stroke-linejoin="round"/>
<path d="M1958.8 1168.9 L2058.5 1170.2" fill="none" stroke="#0030ff" stroke-width="15.0" stroke-linecap="round" stroke-linejoin="round"/>
<path d="M1985.7 1197.2 L2050.4 1194.5" fill="none" stroke="#0050ff" stroke-width="8.0" stroke-linecap="round" stroke-linejoin="round"/>
<path d="M1953.4 1206.6 L2058.5 1209.3" fill="none" stroke="#0080ff" stroke-width="10.0" stroke-linecap="round" stroke-linejoin="round"/>
<path d="M1961.5 1253.8 C1970.8 1250.2 1983.6 1246.8 1996.5 1240.3 C2009.4 1233.9 2006.4 1232.4 2010.0 1229.5" fill="none" stroke="#00c0ff" stroke-width="9.0" stroke-linecap="round" stroke-linejoin="round"/>
<g filter="url(#b4)">
<path d="M1977.1 1210.2 C1981.8 1203.5 2010.8 1200.8 2025.6 1202.2 C2040.4 1203.5 2056.3 1214.3 2066.0 1218.3 C2075.8 1222.4 2081.2 1208.9 2084.2 1226.4 C2087.3 1243.9 2091.3 1307.3 2084.2 1323.5 C2077.2 1339.6 2050.2 1326.1 2041.8 1323.5 C2033.4 1320.8 2039.8 1308.6 2033.7 1307.3 C2027.6 1305.9 2018.2 1315.4 2005.4 1315.4 C1992.6 1315.4 1965.6 1312.7 1956.9 1307.3 C1948.1 1301.9 1941.4 1291.1 1952.8 1283.0 C1964.3 1274.9 2011.5 1265.5 2025.6 1258.8 C2039.8 1252.0 2042.5 1245.3 2037.7 1242.6 C2033.0 1239.9 2007.4 1248.0 1997.3 1242.6 C1987.2 1237.2 1972.4 1217.0 1977.1 1210.2 Z" fill="#00e0ff"/>
<path d="M1956.9 1279.0 C1963.6 1272.2 1990.6 1266.2 2005.4 1266.8 C2020.2 1267.5 2037.1 1277.6 2045.8 1283.0 C2054.6 1288.4 2061.3 1294.5 2058.0 1299.2 C2054.6 1303.9 2041.1 1310.0 2025.6 1311.3 C2010.1 1312.7 1976.4 1312.7 1965.0 1307.3 C1953.5 1301.9 1950.1 1285.7 1956.9 1279.0 Z" fill="#0090ff"/>
<ellipse cx="2080" cy="1272" rx="16" ry="40" fill="#ffe000"/>
<ellipse cx="2084" cy="1272" rx="8" ry="30" fill="#ff7000"/>
<ellipse cx="2062" cy="1270" rx="8" ry="30" fill="#40ff80"/>
<path d="M1944.7 1335.6 C1952.8 1328.8 1969.7 1324.8 1985.2 1323.5 C2000.7 1322.1 2030.3 1320.8 2037.7 1327.5 C2045.2 1334.2 2032.4 1352.4 2029.7 1363.9 C2027.0 1375.3 2029.0 1390.2 2021.6 1396.2 C2014.2 1402.3 1998.0 1401.6 1985.2 1400.3 C1972.4 1398.9 1952.8 1394.2 1944.7 1388.1 C1936.7 1382.1 1936.7 1372.6 1936.7 1363.9 C1936.7 1355.1 1936.7 1342.3 1944.7 1335.6 Z" fill="#00a8ff"/>
<path d="M1965.0 1331.5 C1973.7 1326.8 2026.3 1320.8 2037.7 1323.5 C2049.2 1326.1 2042.5 1343.0 2033.7 1347.7 C2024.9 1352.4 1996.6 1354.5 1985.2 1351.8 C1973.7 1349.1 1956.2 1336.3 1965.0 1331.5 Z" fill="#00d8ff"/>
</g>
<path d="M1956.9 1153.6 C1969.8 1155.8 1978.4 1157.4 2005.4 1161.7 C2032.4 1166.0 2043.9 1167.7 2058.0 1169.8" fill="none" stroke="#0060ff" stroke-width="12.0" stroke-linecap="round" stroke-linejoin="round"/>
<path d="M1956.9 1153.6 C1959.0 1160.1 1957.4 1167.1 1965.0 1177.9 C1972.5 1188.7 1979.8 1189.8 1985.2 1194.1" fill="none" stroke="#0050ff" stroke-width="8.0" stroke-linecap="round" stroke-linejoin="round"/>
<path d="M1952.8 1242.6 C1961.5 1239.4 1970.1 1239.1 1985.2 1230.5 C2000.3 1221.8 2003.0 1215.6 2009.4 1210.2" fill="none" stroke="#00c8ff" stroke-width="9.0" stroke-linecap="round" stroke-linejoin="round"/>
<path d="M1944.7 1404.3 C1955.5 1405.4 1967.9 1409.4 1985.2 1408.4 C2002.4 1407.3 2003.0 1402.4 2009.4 1400.3" fill="none" stroke="#00d0ff" stroke-width="8.0" stroke-linecap="round" stroke-linejoin="round"/>
<path d="M2058.0 1456.9 L2084.2 1448.8" fill="none" stroke="#00d0ff" stroke-width="9.0" stroke-linecap="round" stroke-linejoin="round"/>
<path d="M1940.7 1477.9 C1958.0 1479.5 1967.7 1480.7 2005.4 1484.0 C2043.1 1487.2 2061.7 1488.4 2082.2 1490.0" fill="none" stroke="#0070ff" stroke-width="18.0" stroke-linecap="round" stroke-linejoin="round"/>
<path d="M1952.8 1494.1 L1993.3 1498.1" fill="none" stroke="#0030ff" stroke-width="10.0" stroke-linecap="round" stroke-linejoin="round"/>
<path d="M1997.3 1498.1 C2004.9 1501.4 2010.5 1505.9 2025.6 1510.2 C2040.7 1514.6 2038.8 1514.8 2053.9 1514.3 C2069.0 1513.7 2074.7 1509.8 2082.2 1508.2" fill="none" stroke="#0010e0" stroke-width="6.0" stroke-linecap="round" stroke-linejoin="round"/>
<path d="M2019.5 1540.6 L2082.2 1538.5" fill="none" stroke="#0030ff" stroke-width="7.0" stroke-linecap="round" stroke-linejoin="round"/>
<path d="M2033.7 1554.7 L2082.2 1553.9" fill="none" stroke="#0070ff" stroke-width="8.0" stroke-linecap="round" stroke-linejoin="round"/>
<path d="M2041.8 1568.9 L2082.2 1568.9" fill="none" stroke="#00a0ff" stroke-width="8.0" stroke-linecap="round" stroke-linejoin="round"/>
<path d="M1698.1 1603.2 L1710.2 1583.0 L1742.6 1579.0 L1750.7 1544.6 L1839.6 1541.8 L1850.9 1529.7 L1859.8 1542.6 L1880.1 1558.8 L1900.3 1558.8 L1908.4 1571.7 L2084.2 1579.0 L2084.2 1603.2 Z" fill="#0080ff"/>
<path d="M1758.8 1566.8 C1776.0 1566.3 1793.3 1564.3 1823.5 1564.8 C1853.6 1565.4 1859.0 1567.8 1872.0 1568.9" fill="none" stroke="#0040ff" stroke-width="14.0" stroke-linecap="round" stroke-linejoin="round"/>
<path d="M1718.3 1593.1 C1746.4 1594.2 1752.3 1597.2 1823.5 1597.2 C1894.6 1597.2 1942.1 1594.2 1985.2 1593.1" fill="none" stroke="#00b0ff" stroke-width="9.0" stroke-linecap="round" stroke-linejoin="round"/>
<path d="M1742.6 1583.0 L1876.0 1579.8" fill="none" stroke="#e8f4ff" stroke-width="3.5" stroke-linecap="round" stroke-linejoin="round"/>
<path d="M2037.7 1591.1 L2082.2 1579.0" fill="none" stroke="#00e0ff" stroke-width="10.0" stroke-linecap="round" stroke-linejoin="round"/>
</g>
<g id="map">
<path d="M338.0 1422.0 L344.0 1424.0 L350.0 1431.0 L357.0 1438.7 L366.0 1447.0 L376.3 1451.0 L389.0 1446.0 L402.0 1438.7 L416.0 1429.0 L428.0 1416.0 L433.0 1403.0 L436.0 1390.0 L438.0 1376.0 L443.0 1364.0 L460.0 1357.0 L482.0 1355.0 L488.0 1331.0 L510.0 1298.5 L542.6 1262.0 L567.0 1230.0 L565.0 1181.0 L575.0 1121.0 L591.0 1090.0 L603.0 1060.0 L607.0 1025.0 L595.0 964.0 L589.0 924.0 L591.0 859.0 L611.0 827.0 L664.0 819.0 L684.0 794.5 L745.0 778.0 L777.0 730.0 L842.0 677.0 L900.0 631.0 L968.0 560.0 L1033.0 517.0 L1082.0 484.5 L1126.0 444.0 L1124.0 404.0 L1138.5 371.0 L1183.0 363.0 L1211.0 339.0 L1235.6 327.0 L1248.0 343.0 L1284.0 327.0 L1320.0 325.0 L1417.5 323.0 L1420.8 309.4 L1418.6 296.0 L1414.5 286.0 L1410.5 277.0 L1405.0 266.0 L1401.0 258.0 L1398.5 248.0 L1399.7 242.0 L1404.0 242.5 L1407.8 246.0 L1414.0 254.0 L1421.3 263.6 L1429.0 269.5 L1437.5 274.3 L1449.0 277.5 L1461.7 279.2 L1478.0 282.4 L1487.0 288.0 L1494.0 296.0 L1498.5 304.0 L1502.0 312.0 L1507.5 325.6 L1512.0 340.0 L1524.0 387.5 L1552.6 424.0 L1581.0 436.0 L1605.0 484.5 L1641.5 496.7 L1670.0 533.0 L1670.0 560.0 L1698.0 576.0 L1714.0 612.6 L1722.0 661.0 L1724.0 701.5 L1718.0 742.0 L1706.0 778.0 L1700.0 802.6 L1742.6 804.6 L1783.0 805.0 L1831.5 800.6 L1864.0 790.5 L1892.0 774.0 L1906.0 754.0 L1912.0 730.0 L1914.0 709.6 L1928.6 730.0 L1945.0 758.0 L1957.0 778.0 L1971.0 786.4 L1975.0 823.0 L1979.0 867.0 L1989.0 916.0 L2005.0 964.0 L2025.6 1013.0 L2046.0 1060.0 L2058.0 1133.0 L2066.0 1162.0 L2058.0 1194.0 L2066.0 1218.0 L2083.0 1222.0 L2083.0 101.0 L338.0 101.0 Z" fill="#000"/>
<path d="M2083.0 1319.0 L2042.0 1319.0 L2029.6 1364.0 L2021.6 1404.0 L2033.7 1436.7 L2083.0 1445.0 Z" fill="#000"/>
<path d="M558.8 1371.0 C552.1 1376.4 567.0 1374.7 567.0 1383.5 C567.0 1392.3 560.8 1410.6 558.8 1424.0 C556.8 1437.4 555.1 1450.5 554.7 1464.0 C554.4 1477.5 555.3 1492.8 556.7 1505.0 C558.1 1517.2 560.6 1527.8 563.0 1537.0 C565.4 1546.2 568.3 1548.5 571.0 1560.0 C573.7 1571.5 556.8 1598.3 579.0 1606.0 C601.2 1613.7 679.8 1615.2 704.0 1606.0 C728.2 1596.8 720.4 1565.5 724.5 1550.7 C728.6 1535.9 729.3 1528.0 728.6 1517.0 C727.9 1506.0 724.6 1496.0 720.5 1484.5 C716.4 1473.0 711.4 1461.5 704.0 1448.0 C696.6 1434.5 684.7 1417.2 676.0 1403.7 C667.3 1390.2 658.5 1377.1 651.8 1367.0 C645.1 1356.9 643.1 1345.7 635.6 1343.0 C628.1 1340.3 619.8 1346.3 607.0 1351.0 C594.2 1355.7 565.5 1365.6 558.8 1371.0 Z" fill="#000"/>
<path d="M1600.0 1010.0 C1603.5 1006.3 1608.8 1006.3 1612.0 1008.0 C1615.2 1009.7 1618.3 1014.7 1619.0 1020.0 C1619.7 1025.3 1618.5 1034.3 1616.0 1040.0 C1613.5 1045.7 1607.8 1052.3 1604.0 1054.0 C1600.2 1055.7 1595.2 1054.0 1593.0 1050.0 C1590.8 1046.0 1589.8 1036.7 1591.0 1030.0 C1592.2 1023.3 1596.5 1013.7 1600.0 1010.0 Z" fill="#000"/>
<path d="M1590.0 1068.0 C1594.3 1063.5 1600.5 1065.2 1604.0 1068.0 C1607.5 1070.8 1610.7 1077.2 1611.0 1085.0 C1611.3 1092.8 1608.3 1105.8 1606.0 1115.0 C1603.7 1124.2 1600.0 1130.8 1597.0 1140.0 C1594.0 1149.2 1590.8 1164.7 1588.0 1170.0 C1585.2 1175.3 1583.3 1175.0 1580.0 1172.0 C1576.7 1169.0 1569.3 1159.8 1568.0 1152.0 C1566.7 1144.2 1570.3 1134.5 1572.0 1125.0 C1573.7 1115.5 1575.0 1104.5 1578.0 1095.0 C1581.0 1085.5 1585.7 1072.5 1590.0 1068.0 Z" fill="#000"/>
<path d="M1570.0 1210.0 C1574.0 1207.3 1578.2 1204.8 1580.0 1209.0 C1581.8 1213.2 1582.0 1227.7 1581.0 1235.0 C1580.0 1242.3 1577.5 1249.3 1574.0 1253.0 C1570.5 1256.7 1563.5 1258.3 1560.0 1257.0 C1556.5 1255.7 1553.7 1250.3 1553.0 1245.0 C1552.3 1239.7 1553.2 1230.8 1556.0 1225.0 C1558.8 1219.2 1566.0 1212.7 1570.0 1210.0 Z" fill="#000"/>
<path d="M1668.0 1499.0 C1672.0 1496.5 1677.3 1496.5 1680.0 1500.0 C1682.7 1503.5 1682.0 1514.5 1684.0 1520.0 C1686.0 1525.5 1692.3 1528.3 1692.0 1533.0 C1691.7 1537.7 1686.7 1544.8 1682.0 1548.0 C1677.3 1551.2 1667.3 1554.2 1664.0 1552.0 C1660.7 1549.8 1663.3 1541.2 1662.0 1535.0 C1660.7 1528.8 1655.0 1521.0 1656.0 1515.0 C1657.0 1509.0 1664.0 1501.5 1668.0 1499.0 Z" fill="#000"/>
</g>
<g id="arrows" stroke="#a92aec" stroke-linecap="round" fill="none">
<path d="M842.0 647.0 L892.0 653.0" stroke-width="7.5"/><path d="M842.0 647.0 L854.5 648.5" stroke-width="11.0"/>
<path d="M797.0 689.0 L843.0 681.0" stroke-width="7.5"/><path d="M797.0 689.0 L808.5 687.0" stroke-width="11.0"/>
<path d="M714.0 732.0 L758.0 729.0" stroke-width="7.5"/><path d="M714.0 732.0 L725.0 731.2" stroke-width="11.0"/>
<path d="M757.0 732.0 L801.0 729.0" stroke-width="7.5"/><path d="M757.0 732.0 L768.0 731.2" stroke-width="11.0"/>
<path d="M800.0 732.0 L844.0 729.0" stroke-width="7.5"/><path d="M800.0 732.0 L811.0 731.2" stroke-width="11.0"/>
<path d="M714.0 767.0 L762.0 765.0" stroke-width="7.5"/><path d="M714.0 767.0 L726.0 766.5" stroke-width="11.0"/>
<path d="M636.0 808.0 L680.0 805.0" stroke-width="7.5"/><path d="M636.0 808.0 L647.0 807.2" stroke-width="11.0"/>
<path d="M678.0 808.0 L722.0 805.0" stroke-width="7.5"/><path d="M678.0 808.0 L689.0 807.2" stroke-width="11.0"/>
<path d="M558.0 838.0 L601.0 840.0" stroke-width="7.5"/><path d="M558.0 838.0 L568.8 838.5" stroke-width="11.0"/>
<path d="M600.0 838.0 L643.0 840.0" stroke-width="7.5"/><path d="M600.0 838.0 L610.8 838.5" stroke-width="11.0"/>
<path d="M642.0 838.0 L685.0 840.0" stroke-width="7.5"/><path d="M642.0 838.0 L652.8 838.5" stroke-width="11.0"/>
<path d="M558.0 877.0 L602.0 883.0" stroke-width="7.5"/><path d="M558.0 877.0 L569.0 878.5" stroke-width="11.0"/>
<path d="M600.0 877.0 L644.0 883.0" stroke-width="7.5"/><path d="M600.0 877.0 L611.0 878.5" stroke-width="11.0"/>
<path d="M558.0 914.0 L606.0 922.0" stroke-width="7.5"/><path d="M558.0 914.0 L570.0 916.0" stroke-width="11.0"/>
<path d="M558.0 957.0 L602.0 962.0" stroke-width="7.5"/><path d="M558.0 957.0 L569.0 958.2" stroke-width="11.0"/>
<path d="M600.0 957.0 L644.0 962.0" stroke-width="7.5"/><path d="M600.0 957.0 L611.0 958.2" stroke-width="11.0"/>
<path d="M558.0 992.0 L602.0 1001.0" stroke-width="7.5"/><path d="M558.0 992.0 L569.0 994.2" stroke-width="11.0"/>
<path d="M603.0 992.0 L647.0 1001.0" stroke-width="7.5"/><path d="M603.0 992.0 L614.0 994.2" stroke-width="11.0"/>
<path d="M560.0 1027.0 L602.0 1045.0" stroke-width="7.5"/><path d="M560.0 1027.0 L570.5 1031.5" stroke-width="11.0"/>
<path d="M605.0 1040.0 L635.0 1066.0" stroke-width="7.5"/><path d="M605.0 1040.0 L612.5 1046.5" stroke-width="11.0"/>
<path d="M563.0 1064.0 L605.0 1078.0" stroke-width="7.5"/><path d="M563.0 1064.0 L573.5 1067.5" stroke-width="11.0"/>
<path d="M618.0 1062.0 L648.0 1086.0" stroke-width="7.5"/><path d="M618.0 1062.0 L625.5 1068.0" stroke-width="11.0"/>
<path d="M520.0 1107.0 L563.0 1125.0" stroke-width="7.5"/><path d="M520.0 1107.0 L530.8 1111.5" stroke-width="11.0"/>
<path d="M565.0 1097.0 L601.0 1113.0" stroke-width="7.5"/><path d="M565.0 1097.0 L574.0 1101.0" stroke-width="11.0"/>
<path d="M620.0 1085.0 L648.0 1121.0" stroke-width="7.5"/><path d="M620.0 1085.0 L627.0 1094.0" stroke-width="11.0"/>
<path d="M520.0 1149.0 L563.0 1162.0" stroke-width="7.5"/><path d="M520.0 1149.0 L530.8 1152.2" stroke-width="11.0"/>
<path d="M563.0 1141.0 L603.0 1157.0" stroke-width="7.5"/><path d="M563.0 1141.0 L573.0 1145.0" stroke-width="11.0"/>
<path d="M612.0 1133.0 L648.0 1157.0" stroke-width="7.5"/><path d="M612.0 1133.0 L621.0 1139.0" stroke-width="11.0"/>
<path d="M520.0 1183.0 L563.0 1199.0" stroke-width="7.5"/><path d="M520.0 1183.0 L530.8 1187.0" stroke-width="11.0"/>
<path d="M567.0 1173.0 L603.0 1193.0" stroke-width="7.5"/><path d="M567.0 1173.0 L576.0 1178.0" stroke-width="11.0"/>
<path d="M628.0 1162.0 L648.0 1194.0" stroke-width="7.5"/><path d="M628.0 1162.0 L633.0 1170.0" stroke-width="11.0"/>
<path d="M520.0 1227.0 L563.0 1240.0" stroke-width="7.5"/><path d="M520.0 1227.0 L530.8 1230.2" stroke-width="11.0"/>
<path d="M563.0 1222.0 L603.0 1238.0" stroke-width="7.5"/><path d="M563.0 1222.0 L573.0 1226.0" stroke-width="11.0"/>
<path d="M607.0 1214.0 L647.0 1234.0" stroke-width="7.5"/><path d="M607.0 1214.0 L617.0 1219.0" stroke-width="11.0"/>
<path d="M478.0 1270.0 L524.0 1273.0" stroke-width="7.5"/><path d="M478.0 1270.0 L489.5 1270.8" stroke-width="11.0"/>
<path d="M521.0 1270.0 L567.0 1273.0" stroke-width="7.5"/><path d="M521.0 1270.0 L532.5 1270.8" stroke-width="11.0"/>
<path d="M562.0 1270.0 L608.0 1273.0" stroke-width="7.5"/><path d="M562.0 1270.0 L573.5 1270.8" stroke-width="11.0"/>
<path d="M607.0 1258.0 L647.0 1278.0" stroke-width="7.5"/><path d="M607.0 1258.0 L617.0 1263.0" stroke-width="11.0"/>
<path d="M648.0 1250.0 L688.0 1274.0" stroke-width="7.5"/><path d="M648.0 1250.0 L658.0 1256.0" stroke-width="11.0"/>
<path d="M437.0 1309.0 L483.0 1312.0" stroke-width="7.5"/><path d="M437.0 1309.0 L448.5 1309.8" stroke-width="11.0"/>
<path d="M478.0 1309.0 L524.0 1312.0" stroke-width="7.5"/><path d="M478.0 1309.0 L489.5 1309.8" stroke-width="11.0"/>
<path d="M521.0 1309.0 L567.0 1312.0" stroke-width="7.5"/><path d="M521.0 1309.0 L532.5 1309.8" stroke-width="11.0"/>
<path d="M562.0 1309.0 L608.0 1312.0" stroke-width="7.5"/><path d="M562.0 1309.0 L573.5 1309.8" stroke-width="11.0"/>
<path d="M603.0 1309.0 L649.0 1312.0" stroke-width="7.5"/><path d="M603.0 1309.0 L614.5 1309.8" stroke-width="11.0"/>
<path d="M648.0 1295.0 L688.0 1319.0" stroke-width="7.5"/><path d="M648.0 1295.0 L658.0 1301.0" stroke-width="11.0"/>
<path d="M688.0 1290.0 L724.0 1314.0" stroke-width="7.5"/><path d="M688.0 1290.0 L697.0 1296.0" stroke-width="11.0"/>
<path d="M401.0 1347.0 L443.0 1359.0" stroke-width="7.5"/><path d="M401.0 1347.0 L411.5 1350.0" stroke-width="11.0"/>
<path d="M441.0 1343.0 L487.0 1347.0" stroke-width="7.5"/><path d="M441.0 1343.0 L452.5 1344.0" stroke-width="11.0"/>
<path d="M482.0 1343.0 L528.0 1347.0" stroke-width="7.5"/><path d="M482.0 1343.0 L493.5 1344.0" stroke-width="11.0"/>
<path d="M523.0 1343.0 L569.0 1347.0" stroke-width="7.5"/><path d="M523.0 1343.0 L534.5 1344.0" stroke-width="11.0"/>
<path d="M564.0 1343.0 L610.0 1347.0" stroke-width="7.5"/><path d="M564.0 1343.0 L575.5 1344.0" stroke-width="11.0"/>
<path d="M605.0 1343.0 L651.0 1347.0" stroke-width="7.5"/><path d="M605.0 1343.0 L616.5 1344.0" stroke-width="11.0"/>
<path d="M648.0 1340.0 L688.0 1360.0" stroke-width="7.5"/><path d="M648.0 1340.0 L658.0 1345.0" stroke-width="11.0"/>
<path d="M688.0 1335.0 L724.0 1359.0" stroke-width="7.5"/><path d="M688.0 1335.0 L697.0 1341.0" stroke-width="11.0"/>
<path d="M725.0 1332.0 L765.0 1360.0" stroke-width="7.5"/><path d="M725.0 1332.0 L735.0 1339.0" stroke-width="11.0"/>
<path d="M640.0 1378.0 L682.0 1402.0" stroke-width="7.5"/><path d="M640.0 1378.0 L650.5 1384.0" stroke-width="11.0"/>
<path d="M684.0 1380.0 L724.0 1396.0" stroke-width="7.5"/><path d="M684.0 1380.0 L694.0 1384.0" stroke-width="11.0"/>
<path d="M722.0 1378.0 L777.0 1394.0" stroke-width="7.5"/><path d="M722.0 1378.0 L735.8 1382.0" stroke-width="11.0"/>
<path d="M637.0 1424.0 L687.0 1434.0" stroke-width="7.5"/><path d="M637.0 1424.0 L649.5 1426.5" stroke-width="11.0"/>
<path d="M684.0 1432.0 L728.0 1435.0" stroke-width="7.5"/><path d="M684.0 1432.0 L695.0 1432.8" stroke-width="11.0"/>
<path d="M722.0 1432.0 L766.0 1435.0" stroke-width="7.5"/><path d="M722.0 1432.0 L733.0 1432.8" stroke-width="11.0"/>
<path d="M760.0 1432.0 L804.0 1435.0" stroke-width="7.5"/><path d="M760.0 1432.0 L771.0 1432.8" stroke-width="11.0"/>
<path d="M677.0 1462.0 L725.0 1474.0" stroke-width="7.5"/><path d="M677.0 1462.0 L689.0 1465.0" stroke-width="11.0"/>
<path d="M722.0 1472.0 L762.0 1476.0" stroke-width="7.5"/><path d="M722.0 1472.0 L732.0 1473.0" stroke-width="11.0"/>
<path d="M683.0 1491.0 L723.0 1516.0" stroke-width="7.5"/><path d="M683.0 1491.0 L693.0 1497.2" stroke-width="11.0"/>
<path d="M806.0 1475.0 L760.0 1494.0" stroke-width="7.5"/><path d="M806.0 1475.0 L794.5 1479.8" stroke-width="11.0"/>
<path d="M677.0 1548.0 L720.0 1556.0" stroke-width="7.5"/><path d="M677.0 1548.0 L687.8 1550.0" stroke-width="11.0"/>
<path d="M441.0 1581.0 L488.0 1592.0" stroke-width="7.5"/><path d="M441.0 1581.0 L452.8 1583.8" stroke-width="11.0"/>
<path d="M482.0 1581.0 L529.0 1592.0" stroke-width="7.5"/><path d="M482.0 1581.0 L493.8 1583.8" stroke-width="11.0"/>
<path d="M523.0 1581.0 L570.0 1592.0" stroke-width="7.5"/><path d="M523.0 1581.0 L534.8 1583.8" stroke-width="11.0"/>
<path d="M564.0 1581.0 L611.0 1592.0" stroke-width="7.5"/><path d="M564.0 1581.0 L575.8 1583.8" stroke-width="11.0"/>
<path d="M605.0 1581.0 L652.0 1592.0" stroke-width="7.5"/><path d="M605.0 1581.0 L616.8 1583.8" stroke-width="11.0"/>
<path d="M646.0 1581.0 L693.0 1592.0" stroke-width="7.5"/><path d="M646.0 1581.0 L657.8 1583.8" stroke-width="11.0"/>
<path d="M687.0 1581.0 L734.0 1592.0" stroke-width="7.5"/><path d="M687.0 1581.0 L698.8 1583.8" stroke-width="11.0"/>
<path d="M896.0 652.0 L920.0 679.0" stroke-width="7.5"/><path d="M896.0 652.0 L902.0 658.8" stroke-width="11.0"/>
<path d="M926.0 657.0 L961.0 684.0" stroke-width="7.5"/><path d="M926.0 657.0 L934.8 663.8" stroke-width="11.0"/>
<path d="M955.5 630.0 L1001.0 644.0" stroke-width="7.5"/><path d="M955.5 630.0 L966.9 633.5" stroke-width="11.0"/>
<path d="M896.0 684.0 L923.0 724.6" stroke-width="7.5"/><path d="M896.0 684.0 L902.8 694.1" stroke-width="11.0"/>
<path d="M866.0 690.0 L890.0 730.0" stroke-width="7.5"/><path d="M866.0 690.0 L872.0 700.0" stroke-width="11.0"/>
<path d="M900.0 665.0 L924.0 722.0" stroke-width="7.5"/><path d="M900.0 665.0 L906.0 679.2" stroke-width="11.0"/>
<path d="M1163.0 370.0 L1197.0 398.0" stroke-width="7.5"/><path d="M1163.0 370.0 L1171.5 377.0" stroke-width="11.0"/>
<path d="M1203.5 369.7 L1237.5 396.0" stroke-width="7.5"/><path d="M1203.5 369.7 L1212.0 376.3" stroke-width="11.0"/>
<path d="M1244.0 369.4 L1278.0 394.0" stroke-width="7.5"/><path d="M1244.0 369.4 L1252.5 375.6" stroke-width="11.0"/>
<path d="M1284.5 369.1 L1318.5 392.0" stroke-width="7.5"/><path d="M1284.5 369.1 L1293.0 374.9" stroke-width="11.0"/>
<path d="M1325.0 368.9 L1359.0 390.0" stroke-width="7.5"/><path d="M1325.0 368.9 L1333.5 374.1" stroke-width="11.0"/>
<path d="M1365.5 368.6 L1399.5 388.0" stroke-width="7.5"/><path d="M1365.5 368.6 L1374.0 373.4" stroke-width="11.0"/>
<path d="M1406.0 368.3 L1440.0 386.0" stroke-width="7.5"/><path d="M1406.0 368.3 L1414.5 372.7" stroke-width="11.0"/>
<path d="M1446.5 368.0 L1480.5 384.0" stroke-width="7.5"/><path d="M1446.5 368.0 L1455.0 372.0" stroke-width="11.0"/>
<path d="M1571.0 371.0 L1497.0 373.0" stroke-width="7.5"/><path d="M1571.0 371.0 L1552.5 371.5" stroke-width="11.0"/>
<path d="M1571.0 327.0 L1497.0 329.0" stroke-width="7.5"/><path d="M1571.0 327.0 L1552.5 327.5" stroke-width="11.0"/>
<path d="M1325.0 326.0 L1369.0 329.0" stroke-width="7.5"/><path d="M1325.0 326.0 L1336.0 326.8" stroke-width="11.0"/>
<path d="M1366.0 326.0 L1410.0 329.0" stroke-width="7.5"/><path d="M1366.0 326.0 L1377.0 326.8" stroke-width="11.0"/>
<path d="M1407.0 326.0 L1451.0 329.0" stroke-width="7.5"/><path d="M1407.0 326.0 L1418.0 326.8" stroke-width="11.0"/>
<path d="M1448.0 326.0 L1492.0 329.0" stroke-width="7.5"/><path d="M1448.0 326.0 L1459.0 326.8" stroke-width="11.0"/>
<path d="M1951.0 1202.0 L1987.0 1230.0" stroke-width="7.5"/><path d="M1951.0 1202.0 L1960.0 1209.0" stroke-width="11.0"/>
<path d="M1990.0 1202.0 L2026.0 1230.0" stroke-width="7.5"/><path d="M1990.0 1202.0 L1999.0 1209.0" stroke-width="11.0"/>
<path d="M1912.0 1250.0 L1948.0 1278.0" stroke-width="7.5"/><path d="M1912.0 1250.0 L1921.0 1257.0" stroke-width="11.0"/>
<path d="M1951.0 1250.0 L1987.0 1278.0" stroke-width="7.5"/><path d="M1951.0 1250.0 L1960.0 1257.0" stroke-width="11.0"/>
<path d="M1990.0 1250.0 L2026.0 1278.0" stroke-width="7.5"/><path d="M1990.0 1250.0 L1999.0 1257.0" stroke-width="11.0"/>
<path d="M1912.0 1290.0 L1948.0 1318.0" stroke-width="7.5"/><path d="M1912.0 1290.0 L1921.0 1297.0" stroke-width="11.0"/>
<path d="M1951.0 1290.0 L1987.0 1318.0" stroke-width="7.5"/><path d="M1951.0 1290.0 L1960.0 1297.0" stroke-width="11.0"/>
<path d="M1990.0 1290.0 L2026.0 1318.0" stroke-width="7.5"/><path d="M1990.0 1290.0 L1999.0 1297.0" stroke-width="11.0"/>
<path d="M1912.0 1332.0 L1948.0 1360.0" stroke-width="7.5"/><path d="M1912.0 1332.0 L1921.0 1339.0" stroke-width="11.0"/>
<path d="M1951.0 1332.0 L1987.0 1360.0" stroke-width="7.5"/><path d="M1951.0 1332.0 L1960.0 1339.0" stroke-width="11.0"/>
<path d="M1990.0 1332.0 L2026.0 1360.0" stroke-width="7.5"/><path d="M1990.0 1332.0 L1999.0 1339.0" stroke-width="11.0"/>
<path d="M1912.0 1369.0 L1948.0 1397.0" stroke-width="7.5"/><path d="M1912.0 1369.0 L1921.0 1376.0" stroke-width="11.0"/>
<path d="M1951.0 1369.0 L1987.0 1397.0" stroke-width="7.5"/><path d="M1951.0 1369.0 L1960.0 1376.0" stroke-width="11.0"/>
<path d="M1990.0 1369.0 L2026.0 1397.0" stroke-width="7.5"/><path d="M1990.0 1369.0 L1999.0 1376.0" stroke-width="11.0"/>
<path d="M2030.0 1369.0 L2066.0 1397.0" stroke-width="7.5"/><path d="M2030.0 1369.0 L2039.0 1376.0" stroke-width="11.0"/>
<path d="M1912.0 1409.0 L1948.0 1437.0" stroke-width="7.5"/><path d="M1912.0 1409.0 L1921.0 1416.0" stroke-width="11.0"/>
<path d="M1951.0 1409.0 L1987.0 1437.0" stroke-width="7.5"/><path d="M1951.0 1409.0 L1960.0 1416.0" stroke-width="11.0"/>
<path d="M1990.0 1409.0 L2026.0 1437.0" stroke-width="7.5"/><path d="M1990.0 1409.0 L1999.0 1416.0" stroke-width="11.0"/>
<path d="M2030.0 1409.0 L2066.0 1437.0" stroke-width="7.5"/><path d="M2030.0 1409.0 L2039.0 1416.0" stroke-width="11.0"/>
<path d="M1912.0 1450.0 L1948.0 1478.0" stroke-width="7.5"/><path d="M1912.0 1450.0 L1921.0 1457.0" stroke-width="11.0"/>
<path d="M1951.0 1450.0 L1987.0 1478.0" stroke-width="7.5"/><path d="M1951.0 1450.0 L1960.0 1457.0" stroke-width="11.0"/>
<path d="M1990.0 1450.0 L2026.0 1478.0" stroke-width="7.5"/><path d="M1990.0 1450.0 L1999.0 1457.0" stroke-width="11.0"/>
<path d="M2030.0 1450.0 L2066.0 1478.0" stroke-width="7.5"/><path d="M2030.0 1450.0 L2039.0 1457.0" stroke-width="11.0"/>
<path d="M2083.0 1148.0 L2050.0 1152.0" stroke-width="7.5"/><path d="M2083.0 1148.0 L2074.8 1149.0" stroke-width="11.0"/>
<path d="M1730.5 1510.0 L1758.8 1563.0" stroke-width="7.5"/><path d="M1730.5 1510.0 L1737.6 1523.2" stroke-width="11.0"/>
<path d="M1766.8 1512.0 L1799.0 1554.7" stroke-width="7.5"/><path d="M1766.8 1512.0 L1774.8 1522.7" stroke-width="11.0"/>
<path d="M1726.4 1554.7 L1762.8 1599.0" stroke-width="7.5"/><path d="M1726.4 1554.7 L1735.5 1565.8" stroke-width="11.0"/>
<path d="M1762.8 1558.8 L1799.0 1599.0" stroke-width="7.5"/><path d="M1762.8 1558.8 L1771.8 1568.8" stroke-width="11.0"/>
<path d="M1957.0 1558.8 L1989.0 1599.0" stroke-width="7.5"/><path d="M1957.0 1558.8 L1965.0 1568.8" stroke-width="11.0"/>
<path d="M1993.0 1558.8 L2030.0 1599.0" stroke-width="7.5"/><path d="M1993.0 1558.8 L2002.2 1568.8" stroke-width="11.0"/>
<path d="M2034.0 1562.0 L2074.0 1599.0" stroke-width="7.5"/><path d="M2034.0 1562.0 L2044.0 1571.2" stroke-width="11.0"/>
<path d="M2060.0 1535.0 L2083.0 1560.0" stroke-width="7.5"/><path d="M2060.0 1535.0 L2065.8 1541.2" stroke-width="11.0"/>
</g>
</g>
<g stroke="#000" stroke-width="9" fill="none" stroke-linecap="butt">
<path d="M342.0 101.0 V1606.0 H2087.0"/>
</g>
<g stroke="#000" stroke-width="5" fill="none">
<path d="M576.0 1606.0 v-22"/>
<path d="M972.5 1606.0 v-22"/>
<path d="M1369.1 1606.0 v-22"/>
<path d="M1765.7 1606.0 v-22"/>
<path d="M338.0 1606.0 h22"/>
<path d="M338.0 1447.6 h22"/>
<path d="M338.0 1289.2 h22"/>
<path d="M338.0 1130.8 h22"/>
<path d="M338.0 972.4 h22"/>
<path d="M338.0 814.0 h22"/>
<path d="M338.0 655.6 h22"/>
<path d="M338.0 497.2 h22"/>
<path d="M338.0 338.8 h22"/>
<path d="M338.0 180.4 h22"/>
</g>
<text x="579.0" y="1689.0" font-size="62.0" font-weight="bold" text-anchor="middle" fill="#000">80</text>
<text x="975.5" y="1689.0" font-size="62.0" font-weight="bold" text-anchor="middle" fill="#000">85</text>
<text x="1372.1" y="1689.0" font-size="62.0" font-weight="bold" text-anchor="middle" fill="#000">90</text>
<text x="1768.7" y="1689.0" font-size="62.0" font-weight="bold" text-anchor="middle" fill="#000">95</text>
<text x="319.0" y="1628.0" font-size="62.0" font-weight="bold" text-anchor="end" fill="#000">6</text>
<text x="319.0" y="1469.6" font-size="62.0" font-weight="bold" text-anchor="end" fill="#000">8</text>
<text x="319.0" y="1311.2" font-size="62.0" font-weight="bold" text-anchor="end" fill="#000">10</text>
<text x="319.0" y="1152.8" font-size="62.0" font-weight="bold" text-anchor="end" fill="#000">12</text>
<text x="319.0" y="994.4" font-size="62.0" font-weight="bold" text-anchor="end" fill="#000">14</text>
<text x="319.0" y="836.0" font-size="62.0" font-weight="bold" text-anchor="end" fill="#000">16</text>
<text x="319.0" y="677.6" font-size="62.0" font-weight="bold" text-anchor="end" fill="#000">18</text>
<text x="319.0" y="519.2" font-size="62.0" font-weight="bold" text-anchor="end" fill="#000">20</text>
<text x="319.0" y="360.8" font-size="62.0" font-weight="bold" text-anchor="end" fill="#000">22</text>
<text x="319.0" y="202.4" font-size="62.0" font-weight="bold" text-anchor="end" fill="#000">24</text>
<text x="1212.0" y="1768.0" font-size="60.0" font-weight="bold" text-anchor="middle" fill="#000" textLength="410.0" lengthAdjust="spacingAndGlyphs">Longitude (°E)</text>
<text transform="translate(225,843) rotate(-90)" font-size="60" font-weight="bold" text-anchor="middle" textLength="356" lengthAdjust="spacingAndGlyphs">Latitude (°N)</text>
<text x="365" y="84" font-size="60" font-weight="bold" xml:space="preserve" textLength="1694" lengthAdjust="spacingAndGlyphs">CEOF2 (Magnitude and Phase)   ||   Variance explained:15.7</text>
<text x="459.5" y="230.0" font-size="95.0" font-weight="bold" text-anchor="middle" fill="#fff" textLength="101.0" lengthAdjust="spacingAndGlyphs">(a)</text>
<defs><linearGradient id="jet" x1="0" y1="1" x2="0" y2="0">
<stop offset="0.0000" stop-color="#000084"/>
<stop offset="0.0600" stop-color="#0000c0"/>
<stop offset="0.1290" stop-color="#0000ff"/>
<stop offset="0.2500" stop-color="#0080ff"/>
<stop offset="0.3730" stop-color="#00ffff"/>
<stop offset="0.4500" stop-color="#00ff98"/>
<stop offset="0.5100" stop-color="#00f450"/>
<stop offset="0.5450" stop-color="#80ff30"/>
<stop offset="0.5850" stop-color="#c8ff00"/>
<stop offset="0.6300" stop-color="#ffff00"/>
<stop offset="0.7000" stop-color="#ffc000"/>
<stop offset="0.7700" stop-color="#ff7800"/>
<stop offset="0.8400" stop-color="#ff3000"/>
<stop offset="0.8950" stop-color="#ff0000"/>
<stop offset="0.9500" stop-color="#c00000"/>
<stop offset="1.0000" stop-color="#800000"/>
</linearGradient></defs>
<rect x="2118.0" y="103.0" width="69.0" height="1505.0" fill="url(#jet)" stroke="#000" stroke-width="7"/>
<path d="M2187.0 1490.1 h-18" stroke="#000" stroke-width="5"/>
<text x="2208.0" y="1511.6" font-size="60.0" font-weight="bold" text-anchor="start" fill="#000" textLength="117.0" lengthAdjust="spacingAndGlyphs">0.01</text>
<path d="M2187.0 1295.0 h-18" stroke="#000" stroke-width="5"/>
<text x="2208.0" y="1316.5" font-size="60.0" font-weight="bold" text-anchor="start" fill="#000" textLength="117.0" lengthAdjust="spacingAndGlyphs">0.02</text>
<path d="M2187.0 1100.0 h-18" stroke="#000" stroke-width="5"/>
<text x="2208.0" y="1121.5" font-size="60.0" font-weight="bold" text-anchor="start" fill="#000" textLength="117.0" lengthAdjust="spacingAndGlyphs">0.03</text>
<path d="M2187.0 904.9 h-18" stroke="#000" stroke-width="5"/>
<text x="2208.0" y="926.4" font-size="60.0" font-weight="bold" text-anchor="start" fill="#000" textLength="117.0" lengthAdjust="spacingAndGlyphs">0.04</text>
<path d="M2187.0 709.9 h-18" stroke="#000" stroke-width="5"/>
<text x="2208.0" y="731.4" font-size="60.0" font-weight="bold" text-anchor="start" fill="#000" textLength="117.0" lengthAdjust="spacingAndGlyphs">0.05</text>
<path d="M2187.0 514.8 h-18" stroke="#000" stroke-width="5"/>
<text x="2208.0" y="536.3" font-size="60.0" font-weight="bold" text-anchor="start" fill="#000" textLength="117.0" lengthAdjust="spacingAndGlyphs">0.06</text>
<path d="M2187.0 319.8 h-18" stroke="#000" stroke-width="5"/>
<text x="2208.0" y="341.2" font-size="60.0" font-weight="bold" text-anchor="start" fill="#000" textLength="117.0" lengthAdjust="spacingAndGlyphs">0.07</text>
<path d="M2187.0 124.7 h-18" stroke="#000" stroke-width="5"/>
<text x="2208.0" y="146.2" font-size="60.0" font-weight="bold" text-anchor="start" fill="#000" textLength="117.0" lengthAdjust="spacingAndGlyphs">0.08</text>
<g id="pb">
<path d="M322.0 2745.2 L324.5 2725.3 L326.9 2701.2 L329.4 2675.4 L331.8 2648.6 L334.3 2621.3 L336.8 2593.8 L339.2 2566.4 L341.7 2539.3 L344.1 2512.8 L346.6 2487.0 L349.1 2462.2 L351.5 2438.5 L354.0 2416.1 L356.4 2395.1 L358.9 2375.7 L361.4 2358.0 L363.8 2342.1 L366.3 2328.1 L368.7 2316.2 L371.2 2306.2 L373.7 2298.5 L376.1 2292.9 L378.6 2289.5 L381.0 2288.4 L382.8 2289.6 L384.6 2293.1 L386.4 2299.0 L388.2 2307.1 L390.0 2317.5 L391.8 2330.0 L393.6 2344.7 L395.4 2361.3 L397.2 2379.9 L399.0 2400.2 L400.8 2422.2 L402.6 2445.7 L404.3 2470.5 L406.1 2496.5 L407.9 2523.5 L409.7 2551.2 L411.5 2579.6 L413.3 2608.3 L415.1 2637.1 L416.9 2665.7 L418.7 2693.8 L420.5 2720.8 L422.3 2746.0 L424.1 2766.8 L425.6 2748.8 L427.2 2726.9 L428.8 2703.4 L430.4 2679.1 L432.0 2654.3 L433.6 2629.3 L435.1 2604.4 L436.7 2579.8 L438.3 2555.7 L439.9 2532.3 L441.5 2509.7 L443.0 2488.2 L444.6 2467.8 L446.2 2448.8 L447.8 2431.1 L449.4 2415.0 L451.0 2400.6 L452.5 2387.9 L454.1 2377.0 L455.7 2368.0 L457.3 2360.9 L458.9 2355.8 L460.4 2352.8 L462.0 2351.7 L463.7 2352.8 L465.5 2356.1 L467.2 2361.5 L468.9 2369.1 L470.6 2378.7 L472.4 2390.3 L474.1 2403.9 L475.8 2419.3 L477.5 2436.5 L479.2 2455.4 L481.0 2475.7 L482.7 2497.5 L484.4 2520.5 L486.1 2544.6 L487.9 2569.6 L489.6 2595.3 L491.3 2621.6 L493.0 2648.2 L494.7 2674.9 L496.5 2701.5 L498.2 2727.5 L499.9 2752.5 L501.6 2775.9 L503.4 2795.2 L505.4 2769.4 L507.4 2738.1 L509.5 2704.6 L511.5 2669.8 L513.5 2634.3 L515.6 2598.5 L517.6 2562.9 L519.7 2527.7 L521.7 2493.3 L523.7 2459.8 L525.8 2427.6 L527.8 2396.8 L529.9 2367.7 L531.9 2340.4 L533.9 2315.2 L536.0 2292.2 L538.0 2271.5 L540.0 2253.4 L542.1 2237.8 L544.1 2224.9 L546.2 2214.8 L548.2 2207.5 L550.2 2203.2 L552.3 2201.7 L553.8 2203.1 L555.4 2207.3 L556.9 2214.4 L558.5 2224.1 L560.0 2236.6 L561.6 2251.6 L563.1 2269.2 L564.6 2289.1 L566.2 2311.4 L567.7 2335.7 L569.3 2362.1 L570.8 2390.2 L572.4 2420.0 L573.9 2451.1 L575.5 2483.5 L577.0 2516.7 L578.6 2550.7 L580.1 2585.2 L581.7 2619.7 L583.2 2654.0 L584.8 2687.6 L586.3 2720.0 L587.8 2750.2 L589.4 2775.2 L591.1 2746.6 L592.9 2711.8 L594.7 2674.6 L596.4 2636.0 L598.2 2596.6 L599.9 2557.0 L601.7 2517.5 L603.4 2478.4 L605.2 2440.2 L607.0 2403.1 L608.7 2367.3 L610.5 2333.1 L612.2 2300.8 L614.0 2270.6 L615.7 2242.6 L617.5 2217.1 L619.3 2194.2 L621.0 2174.0 L622.8 2156.7 L624.5 2142.4 L626.3 2131.2 L628.0 2123.2 L629.8 2118.3 L631.6 2116.7 L633.4 2118.3 L635.3 2123.3 L637.2 2131.5 L639.0 2142.9 L640.9 2157.5 L642.7 2175.2 L644.6 2195.7 L646.5 2219.1 L648.3 2245.2 L650.2 2273.7 L652.1 2304.6 L653.9 2337.5 L655.8 2372.4 L657.6 2408.9 L659.5 2446.8 L661.4 2485.8 L663.2 2525.6 L665.1 2565.9 L667.0 2606.4 L668.8 2646.5 L670.7 2685.9 L672.5 2723.9 L674.4 2759.3 L676.3 2788.5 L678.0 2765.3 L679.6 2737.2 L681.3 2707.1 L683.0 2675.8 L684.7 2643.9 L686.4 2611.7 L688.1 2579.7 L689.8 2548.1 L691.5 2517.1 L693.1 2487.1 L694.8 2458.1 L696.5 2430.4 L698.2 2404.2 L699.9 2379.7 L701.6 2357.1 L703.3 2336.4 L704.9 2317.8 L706.6 2301.5 L708.3 2287.5 L710.0 2275.9 L711.7 2266.8 L713.4 2260.3 L715.1 2256.4 L716.8 2255.1 L718.7 2256.2 L720.7 2259.5 L722.7 2265.1 L724.6 2272.8 L726.6 2282.7 L728.6 2294.7 L730.5 2308.6 L732.5 2324.4 L734.5 2342.1 L736.4 2361.4 L738.4 2382.3 L740.4 2404.6 L742.3 2428.3 L744.3 2453.0 L746.3 2478.6 L748.2 2505.1 L750.2 2532.0 L752.2 2559.4 L754.2 2586.8 L756.1 2614.0 L758.1 2640.7 L760.1 2666.4 L762.0 2690.4 L764.0 2710.1 L765.8 2689.7 L767.6 2664.9 L769.4 2638.4 L771.2 2610.8 L773.0 2582.7 L774.7 2554.4 L776.5 2526.2 L778.3 2498.3 L780.1 2471.0 L781.9 2444.5 L783.7 2419.0 L785.5 2394.6 L787.3 2371.5 L789.1 2349.9 L790.9 2329.9 L792.7 2311.7 L794.5 2295.4 L796.3 2281.0 L798.1 2268.6 L799.8 2258.4 L801.6 2250.4 L803.4 2244.7 L805.2 2241.2 L807.0 2240.1 L808.7 2241.3 L810.5 2244.9 L812.2 2250.9 L813.9 2259.3 L815.6 2270.0 L817.3 2283.0 L819.1 2298.1 L820.8 2315.3 L822.5 2334.4 L824.2 2355.4 L826.0 2378.0 L827.7 2402.2 L829.4 2427.8 L831.1 2454.7 L832.8 2482.5 L834.6 2511.1 L836.3 2540.4 L838.0 2570.0 L839.7 2599.7 L841.5 2629.2 L843.2 2658.1 L844.9 2686.0 L846.6 2712.0 L848.3 2733.5 L850.0 2717.9 L851.6 2699.0 L853.3 2678.8 L855.0 2657.7 L856.6 2636.3 L858.3 2614.7 L859.9 2593.2 L861.6 2572.0 L863.2 2551.2 L864.9 2531.0 L866.5 2511.5 L868.2 2492.9 L869.8 2475.3 L871.5 2458.8 L873.1 2443.6 L874.8 2429.7 L876.4 2417.2 L878.1 2406.3 L879.7 2396.9 L881.4 2389.1 L883.0 2383.0 L884.7 2378.6 L886.3 2376.0 L888.0 2375.1 L889.8 2376.0 L891.6 2378.6 L893.5 2383.1 L895.3 2389.2 L897.1 2397.1 L899.0 2406.6 L900.8 2417.6 L902.6 2430.2 L904.4 2444.3 L906.3 2459.6 L908.1 2476.2 L909.9 2494.0 L911.7 2512.8 L913.6 2532.4 L915.4 2552.8 L917.2 2573.8 L919.1 2595.3 L920.9 2617.0 L922.7 2638.7 L924.5 2660.4 L926.4 2681.6 L928.2 2702.0 L930.0 2721.1 L931.9 2736.8 L933.5 2719.9 L935.2 2699.5 L936.9 2677.5 L938.6 2654.7 L940.3 2631.5 L942.0 2608.1 L943.7 2584.8 L945.3 2561.8 L947.0 2539.2 L948.7 2517.3 L950.4 2496.2 L952.1 2476.1 L953.8 2457.0 L955.5 2439.2 L957.2 2422.7 L958.8 2407.6 L960.5 2394.1 L962.2 2382.2 L963.9 2372.0 L965.6 2363.6 L967.3 2357.0 L969.0 2352.2 L970.7 2349.4 L972.3 2348.4 L974.1 2349.3 L975.8 2351.9 L977.5 2356.2 L979.2 2362.3 L980.9 2370.0 L982.7 2379.3 L984.4 2390.2 L986.1 2402.5 L987.8 2416.3 L989.6 2431.4 L991.3 2447.7 L993.0 2465.1 L994.7 2483.5 L996.4 2502.8 L998.2 2522.9 L999.9 2543.5 L1001.6 2564.5 L1003.3 2585.8 L1005.1 2607.2 L1006.8 2628.4 L1008.5 2649.3 L1010.2 2669.3 L1011.9 2688.1 L1013.7 2703.5 L1015.4 2688.5 L1017.2 2670.3 L1018.9 2650.8 L1020.7 2630.6 L1022.5 2609.9 L1024.2 2589.1 L1026.0 2568.4 L1027.7 2548.0 L1029.5 2527.9 L1031.2 2508.5 L1033.0 2489.7 L1034.8 2471.8 L1036.5 2454.9 L1038.3 2439.1 L1040.0 2424.4 L1041.8 2411.0 L1043.5 2399.0 L1045.3 2388.4 L1047.1 2379.4 L1048.8 2371.9 L1050.6 2366.0 L1052.3 2361.8 L1054.1 2359.3" fill="none" stroke="#0072bd" stroke-width="9" stroke-linejoin="round" stroke-linecap="butt"/>
<path d="M1055.8 2358.4 C1060.1 2370.6 1060.1 2350.6 1068.5 2395.1 C1076.9 2439.5 1073.6 2430.6 1081.2 2491.8 C1088.7 2552.9 1085.1 2534.0 1091.3 2578.5 C1097.5 2622.9 1095.2 2607.3 1099.7 2625.1 C1104.2 2642.9 1100.8 2633.5 1104.8 2631.8 C1108.7 2630.1 1106.7 2628.5 1111.5 2620.1 C1116.3 2611.8 1113.8 2607.3 1119.1 2606.8 C1124.4 2606.2 1121.1 2590.1 1127.5 2618.5 C1134.0 2646.8 1131.5 2644.0 1138.5 2691.8 C1145.5 2739.6 1143.3 2730.7 1148.6 2761.8 C1154.0 2792.9 1150.9 2779.6 1154.5 2785.2 C1158.2 2790.7 1155.9 2798.5 1159.6 2778.5 C1163.3 2758.5 1163.5 2742.9 1165.5 2725.1" fill="none" stroke="#0072bd" stroke-width="9" stroke-linejoin="round"/>
<rect x="322.0" y="1985.0" width="843.5" height="833.5" fill="none" stroke="#000" stroke-width="7"/>
<path d="M406.4 2818.5 v-12.0 M406.4 1985.0 v12.0 M490.7 2818.5 v-12.0 M490.7 1985.0 v12.0 M575.0 2818.5 v-12.0 M575.0 1985.0 v12.0 M659.4 2818.5 v-12.0 M659.4 1985.0 v12.0 M743.8 2818.5 v-12.0 M743.8 1985.0 v12.0 M828.1 2818.5 v-12.0 M828.1 1985.0 v12.0 M912.5 2818.5 v-12.0 M912.5 1985.0 v12.0 M996.8 2818.5 v-12.0 M996.8 1985.0 v12.0 M1081.2 2818.5 v-12.0 M1081.2 1985.0 v12.0 M322.0 2651.8 h12.0 M1165.5 2651.8 h-12.0 M322.0 2485.1 h12.0 M1165.5 2485.1 h-12.0 M322.0 2318.4 h12.0 M1165.5 2318.4 h-12.0 M322.0 2151.7 h12.0 M1165.5 2151.7 h-12.0 " stroke="#000" stroke-width="7" fill="none"/>
<text x="406.4" y="2889.0" font-size="50.0" font-weight="bold" text-anchor="middle" fill="#000" textLength="112.0" lengthAdjust="spacingAndGlyphs">2010</text>
<text x="575.0" y="2889.0" font-size="50.0" font-weight="bold" text-anchor="middle" fill="#000" textLength="112.0" lengthAdjust="spacingAndGlyphs">2012</text>
<text x="743.8" y="2889.0" font-size="50.0" font-weight="bold" text-anchor="middle" fill="#000" textLength="112.0" lengthAdjust="spacingAndGlyphs">2014</text>
<text x="912.5" y="2889.0" font-size="50.0" font-weight="bold" text-anchor="middle" fill="#000" textLength="112.0" lengthAdjust="spacingAndGlyphs">2016</text>
<text x="1081.2" y="2889.0" font-size="50.0" font-weight="bold" text-anchor="middle" fill="#000" textLength="112.0" lengthAdjust="spacingAndGlyphs">2018</text>
<text x="305.0" y="2838.5" font-size="50.0" font-weight="bold" text-anchor="end" fill="#000">0</text>
<text x="305.0" y="2671.8" font-size="50.0" font-weight="bold" text-anchor="end" fill="#000">0.5</text>
<text x="305.0" y="2505.1" font-size="50.0" font-weight="bold" text-anchor="end" fill="#000">1</text>
<text x="305.0" y="2338.4" font-size="50.0" font-weight="bold" text-anchor="end" fill="#000">1.5</text>
<text x="305.0" y="2171.7" font-size="50.0" font-weight="bold" text-anchor="end" fill="#000">2</text>
<text x="305.0" y="2005.0" font-size="50.0" font-weight="bold" text-anchor="end" fill="#000">2.5</text>
<text x="743.7" y="1973.0" font-size="50.0" font-weight="bold" text-anchor="middle" fill="#000" textLength="773.0" lengthAdjust="spacingAndGlyphs">Principal Component Magnitude</text>
<text x="692.5" y="1863.0" font-size="84.0" font-weight="bold" text-anchor="middle" fill="#000" textLength="105.0" lengthAdjust="spacingAndGlyphs">(b)</text>
</g>
<g id="pc">
<clipPath id="cc"><rect x="1451.0" y="1985.0" width="844.5" height="833.5"/></clipPath>
<path d="M1451.0 2366.3 L1474.4 2771.6 L1474.4 2036.1 L1526.5 2771.6 L1526.5 2036.1 L1557.7 2771.6 L1557.7 2036.1 L1610.7 2771.6 L1610.7 2036.1 L1626.0 2210.0 L1630.0 2036.1 L1637.2 2771.6 L1637.2 2036.1 L1698.0 2771.6 L1698.0 2036.1 L1713.0 2197.5 L1717.0 2036.1 L1722.9 2771.6 L1722.9 2036.1 L1782.0 2771.6 L1782.0 2036.1 L1801.0 2243.4 L1806.0 2032.9 L1865.4 2771.6 L1865.4 2036.1 L1902.0 2771.6 L1902.0 2036.1 L1951.0 2771.6 L1951.0 2036.1 L1983.8 2771.6 L1983.8 2036.1 L2035.2 2771.6 L2035.2 2036.1 L2068.0 2771.6 L2068.0 2036.1 L2118.6 2771.6 L2118.6 2036.1 L2152.0 2771.6 L2152.0 2036.1 L2202.0 2771.6 L2202.0 2036.1 L2237.8 2771.6 L2237.8 2036.1 L2282.2 2771.6 L2282.2 2036.1 L2295.5 2360.1" fill="none" stroke="#0072bd" stroke-width="8.5" stroke-linejoin="round" clip-path="url(#cc)"/>
<rect x="1451.0" y="1985.0" width="844.5" height="833.5" fill="none" stroke="#000" stroke-width="7"/>
<path d="M1535.5 2818.5 v-12.0 M1535.5 1985.0 v12.0 M1619.9 2818.5 v-12.0 M1619.9 1985.0 v12.0 M1704.3 2818.5 v-12.0 M1704.3 1985.0 v12.0 M1788.8 2818.5 v-12.0 M1788.8 1985.0 v12.0 M1873.2 2818.5 v-12.0 M1873.2 1985.0 v12.0 M1957.7 2818.5 v-12.0 M1957.7 1985.0 v12.0 M2042.2 2818.5 v-12.0 M2042.2 1985.0 v12.0 M2126.6 2818.5 v-12.0 M2126.6 1985.0 v12.0 M2211.1 2818.5 v-12.0 M2211.1 1985.0 v12.0 M1451.0 2610.1 h12.0 M2295.5 2610.1 h-12.0 M1451.0 2401.8 h12.0 M2295.5 2401.8 h-12.0 M1451.0 2193.4 h12.0 M2295.5 2193.4 h-12.0 " stroke="#000" stroke-width="7" fill="none"/>
<text x="1535.5" y="2889.0" font-size="50.0" font-weight="bold" text-anchor="middle" fill="#000" textLength="112.0" lengthAdjust="spacingAndGlyphs">2010</text>
<text x="1704.3" y="2889.0" font-size="50.0" font-weight="bold" text-anchor="middle" fill="#000" textLength="112.0" lengthAdjust="spacingAndGlyphs">2012</text>
<text x="1873.2" y="2889.0" font-size="50.0" font-weight="bold" text-anchor="middle" fill="#000" textLength="112.0" lengthAdjust="spacingAndGlyphs">2014</text>
<text x="2042.2" y="2889.0" font-size="50.0" font-weight="bold" text-anchor="middle" fill="#000" textLength="112.0" lengthAdjust="spacingAndGlyphs">2016</text>
<text x="2211.1" y="2889.0" font-size="50.0" font-weight="bold" text-anchor="middle" fill="#000" textLength="112.0" lengthAdjust="spacingAndGlyphs">2018</text>
<text x="1432.0" y="2005.0" font-size="50.0" font-weight="bold" text-anchor="end" fill="#000">200</text>
<text x="1432.0" y="2213.4" font-size="50.0" font-weight="bold" text-anchor="end" fill="#000">100</text>
<text x="1432.0" y="2421.8" font-size="50.0" font-weight="bold" text-anchor="end" fill="#000">0</text>
<text x="1298.0" y="2630.1" font-size="50.0" font-weight="bold" text-anchor="start" fill="#000" textLength="41.0" lengthAdjust="spacingAndGlyphs">−</text>
<text x="1432.0" y="2630.1" font-size="50.0" font-weight="bold" text-anchor="end" fill="#000">100</text>
<text x="1298.0" y="2838.5" font-size="50.0" font-weight="bold" text-anchor="start" fill="#000" textLength="41.0" lengthAdjust="spacingAndGlyphs">−</text>
<text x="1432.0" y="2838.5" font-size="50.0" font-weight="bold" text-anchor="end" fill="#000">200</text>
<text x="1872.3" y="1973.0" font-size="50.0" font-weight="bold" text-anchor="middle" fill="#000" textLength="668.0" lengthAdjust="spacingAndGlyphs">Principal Component Phase</text>
<text x="1855.0" y="1857.0" font-size="84.0" font-weight="bold" text-anchor="middle" fill="#000" textLength="92.0" lengthAdjust="spacingAndGlyphs">(c)</text>
</g>
<g id="pd">
<clipPath id="cd"><rect x="318.6" y="3023.0" width="1985.4" height="802.5"/></clipPath>
<g clip-path="url(#cd)" fill="none" stroke-width="6.5" stroke-linejoin="round">
<path d="M293.1 3336.0 L305.0 3341.2 L317.0 3346.6 L329.0 3352.1 L340.9 3357.8 L352.9 3363.6 L364.8 3369.5 L376.8 3375.5 L388.8 3381.4 L400.7 3387.3 L412.7 3393.1 L424.6 3398.8 L436.6 3404.3 L448.6 3409.7 L460.5 3414.9 L472.5 3419.8 L484.4 3424.5 L496.4 3428.8 L508.4 3432.9 L520.3 3436.5 L532.3 3439.8 L544.2 3442.7 L556.2 3445.2 L568.2 3447.3 L580.1 3448.9 L592.1 3450.0 L604.0 3450.7 L616.0 3450.9 L625.5 3450.8 L635.0 3450.3 L644.6 3449.5 L654.1 3448.4 L663.6 3447.0 L673.1 3445.3 L682.7 3443.3 L692.2 3441.1 L701.7 3438.5 L711.2 3435.8 L720.8 3432.8 L730.3 3429.6 L739.8 3426.2 L749.4 3422.7 L758.9 3419.0 L768.4 3415.1 L777.9 3411.2 L787.5 3407.2 L797.0 3403.2 L806.5 3399.1 L816.0 3395.1 L825.5 3391.0 L835.1 3387.0 L844.6 3383.1 L854.1 3379.3 L863.6 3375.6 L873.2 3372.0 L882.7 3368.7 L892.2 3365.5 L901.8 3362.5 L911.3 3359.7 L920.8 3357.2 L930.3 3354.9 L939.8 3352.9 L949.4 3351.2 L958.9 3349.8 L968.4 3348.7 L978.0 3347.9 L987.5 3347.5 L997.0 3347.3 L1010.7 3347.7 L1024.3 3348.8 L1038.0 3350.7 L1051.7 3353.3 L1065.3 3356.7 L1079.0 3360.8 L1092.6 3365.5 L1106.3 3370.9 L1120.0 3376.9 L1133.6 3383.5 L1147.3 3390.7 L1161.0 3398.3 L1174.6 3406.4 L1188.3 3414.8 L1201.9 3423.7 L1215.6 3432.8 L1229.3 3442.1 L1242.9 3451.7 L1256.6 3461.3 L1270.2 3471.0 L1283.9 3480.7 L1297.6 3490.4 L1311.2 3499.9 L1324.9 3509.2 L1338.6 3518.4 L1352.2 3527.2 L1365.9 3535.7 L1379.5 3543.7 L1393.2 3551.4 L1406.9 3558.5 L1420.5 3565.1 L1434.2 3571.1 L1447.9 3576.5 L1461.5 3581.2 L1475.2 3585.3 L1488.8 3588.7 L1502.5 3591.3 L1516.2 3593.2 L1529.8 3594.3 L1543.5 3594.7 L1558.0 3594.3 L1572.5 3592.9 L1587.0 3590.6 L1601.5 3587.4 L1615.9 3583.3 L1630.4 3578.4 L1644.9 3572.6 L1659.4 3566.1 L1673.9 3558.8 L1688.4 3550.8 L1702.9 3542.1 L1717.3 3532.8 L1731.8 3523.0 L1746.3 3512.8 L1760.8 3502.1 L1775.3 3491.0 L1789.8 3479.6 L1804.3 3468.1 L1818.8 3456.4 L1833.2 3444.6 L1847.7 3432.8 L1862.2 3421.1 L1876.7 3409.5 L1891.2 3398.2 L1905.7 3387.1 L1920.2 3376.4 L1934.7 3366.2 L1949.2 3356.4 L1963.6 3347.1 L1978.1 3338.4 L1992.6 3330.4 L2007.1 3323.1 L2021.6 3316.6 L2036.1 3310.8 L2050.6 3305.9 L2065.1 3301.8 L2079.5 3298.6 L2094.0 3296.3 L2108.5 3294.9 L2123.0 3294.5 L2135.0 3294.7 L2146.9 3295.5 L2158.9 3296.7 L2170.8 3298.4 L2182.8 3300.6 L2194.8 3303.3 L2206.7 3306.4 L2218.7 3309.9 L2230.6 3313.9 L2242.6 3318.2 L2254.6 3322.9 L2266.5 3327.9 L2278.5 3333.2 L2290.4 3338.7 L2302.4 3344.5 L2314.4 3350.5 L2326.3 3356.6" stroke="#0072bd"/>
<path d="M291.9 3252.6 L303.8 3262.0 L315.6 3271.9 L327.5 3282.1 L339.4 3292.7 L351.2 3303.6 L363.1 3314.7 L374.9 3325.9 L386.8 3337.2 L398.7 3348.5 L410.5 3359.7 L422.4 3370.8 L434.2 3381.6 L446.1 3392.2 L458.0 3402.5 L469.8 3412.4 L481.7 3421.7 L493.5 3430.6 L505.4 3438.9 L517.3 3446.6 L529.1 3453.6 L541.0 3459.8 L552.8 3465.4 L564.7 3470.1 L576.6 3474.0 L588.4 3477.1 L600.3 3479.3 L612.1 3480.6 L624.0 3481.0 L633.9 3480.7 L643.9 3479.7 L653.8 3478.1 L663.7 3475.8 L673.7 3472.9 L683.6 3469.3 L693.5 3465.2 L703.5 3460.5 L713.4 3455.3 L723.4 3449.6 L733.3 3443.4 L743.2 3436.8 L753.2 3429.8 L763.1 3422.4 L773.0 3414.8 L783.0 3406.9 L792.9 3398.8 L802.8 3390.5 L812.8 3382.1 L822.7 3373.7 L832.6 3365.3 L842.6 3356.9 L852.5 3348.7 L862.4 3340.5 L872.4 3332.6 L882.3 3325.0 L892.2 3317.6 L902.2 3310.6 L912.1 3304.0 L922.0 3297.8 L932.0 3292.1 L941.9 3286.9 L951.9 3282.2 L961.8 3278.1 L971.7 3274.5 L981.7 3271.6 L991.6 3269.3 L1001.5 3267.7 L1011.5 3266.7 L1021.4 3266.4 L1035.3 3267.1 L1049.1 3269.4 L1063.0 3273.1 L1076.9 3278.3 L1090.7 3284.9 L1104.6 3292.8 L1118.5 3302.1 L1132.3 3312.7 L1146.2 3324.5 L1160.0 3337.5 L1173.9 3351.5 L1187.8 3366.4 L1201.6 3382.3 L1215.5 3398.9 L1229.4 3416.2 L1243.2 3434.1 L1257.1 3452.5 L1271.0 3471.2 L1284.8 3490.1 L1298.7 3509.1 L1312.6 3528.2 L1326.4 3547.1 L1340.3 3565.8 L1354.2 3584.1 L1368.0 3602.0 L1381.9 3619.3 L1395.8 3636.0 L1409.6 3651.8 L1423.5 3666.8 L1437.3 3680.8 L1451.2 3693.7 L1465.1 3705.5 L1478.9 3716.1 L1492.8 3725.4 L1506.7 3733.4 L1520.5 3740.0 L1534.4 3745.2 L1548.3 3748.9 L1562.1 3751.1 L1576.0 3751.9 L1590.0 3751.0 L1604.0 3748.3 L1617.9 3743.9 L1631.9 3737.7 L1645.9 3729.8 L1659.8 3720.3 L1673.8 3709.2 L1687.8 3696.6 L1701.8 3682.5 L1715.8 3667.1 L1729.7 3650.4 L1743.7 3632.5 L1757.7 3613.6 L1771.7 3593.8 L1785.6 3573.1 L1799.6 3551.8 L1813.6 3529.9 L1827.5 3507.6 L1841.5 3485.0 L1855.5 3462.3 L1869.5 3439.6 L1883.5 3417.0 L1897.4 3394.7 L1911.4 3372.8 L1925.4 3351.5 L1939.3 3330.9 L1953.3 3311.0 L1967.3 3292.1 L1981.3 3274.3 L1995.2 3257.6 L2009.2 3242.1 L2023.2 3228.1 L2037.2 3215.4 L2051.2 3204.3 L2065.1 3194.8 L2079.1 3186.9 L2093.1 3180.8 L2107.1 3176.3 L2121.0 3173.6 L2135.0 3172.8 L2146.9 3173.2 L2158.7 3174.7 L2170.6 3177.1 L2182.4 3180.5 L2194.3 3184.9 L2206.2 3190.1 L2218.0 3196.2 L2229.9 3203.1 L2241.7 3210.8 L2253.6 3219.3 L2265.5 3228.5 L2277.3 3238.3 L2289.2 3248.7 L2301.0 3259.6 L2312.9 3270.9 L2324.8 3282.6" stroke="#d95319"/>
<path d="M290.1 3287.9 L302.7 3299.5 L315.3 3311.4 L327.8 3323.3 L340.4 3335.4 L353.0 3347.4 L365.5 3359.4 L378.1 3371.3 L390.7 3382.9 L403.2 3394.2 L415.8 3405.2 L428.4 3415.7 L441.0 3425.7 L453.5 3435.2 L466.1 3444.1 L478.7 3452.2 L491.2 3459.7 L503.8 3466.4 L516.4 3472.3 L528.9 3477.4 L541.5 3481.5 L554.1 3484.8 L566.7 3487.2 L579.2 3488.6 L591.8 3489.1 L601.1 3488.8 L610.4 3487.8 L619.8 3486.2 L629.1 3484.0 L638.4 3481.2 L647.7 3477.8 L657.1 3473.8 L666.4 3469.3 L675.7 3464.3 L685.0 3458.8 L694.3 3452.8 L703.7 3446.5 L713.0 3439.7 L722.3 3432.7 L731.6 3425.3 L741.0 3417.7 L750.3 3409.9 L759.6 3401.9 L768.9 3393.9 L778.2 3385.7 L787.6 3377.6 L796.9 3369.6 L806.2 3361.6 L815.5 3353.8 L824.9 3346.2 L834.2 3338.8 L843.5 3331.8 L852.8 3325.0 L862.2 3318.6 L871.5 3312.7 L880.8 3307.2 L890.1 3302.2 L899.4 3297.7 L908.8 3293.7 L918.1 3290.3 L927.4 3287.5 L936.7 3285.3 L946.1 3283.7 L955.4 3282.7 L964.7 3282.4 L978.0 3283.2 L991.2 3285.4 L1004.5 3289.0 L1017.7 3294.1 L1031.0 3300.5 L1044.2 3308.4 L1057.5 3317.5 L1070.7 3327.9 L1084.0 3339.5 L1097.2 3352.2 L1110.5 3365.9 L1123.7 3380.6 L1137.0 3396.1 L1150.2 3412.4 L1163.5 3429.4 L1176.7 3446.9 L1190.0 3464.9 L1203.2 3483.3 L1216.5 3501.8 L1229.8 3520.5 L1243.0 3539.2 L1256.3 3557.7 L1269.5 3576.1 L1282.8 3594.1 L1296.0 3611.6 L1309.3 3628.6 L1322.5 3644.9 L1335.8 3660.4 L1349.0 3675.1 L1362.3 3688.8 L1375.5 3701.5 L1388.8 3713.1 L1402.0 3723.5 L1415.3 3732.6 L1428.5 3740.5 L1441.8 3746.9 L1455.0 3752.0 L1468.3 3755.6 L1481.5 3757.8 L1494.8 3758.6 L1509.3 3757.6 L1523.8 3754.8 L1538.3 3750.1 L1552.8 3743.5 L1567.2 3735.1 L1581.7 3725.0 L1596.2 3713.1 L1610.7 3699.7 L1625.2 3684.7 L1639.7 3668.3 L1654.2 3650.5 L1668.7 3631.5 L1683.2 3611.4 L1697.7 3590.2 L1712.2 3568.3 L1726.6 3545.5 L1741.1 3522.3 L1755.6 3498.5 L1770.1 3474.5 L1784.6 3450.3 L1799.1 3426.1 L1813.6 3402.1 L1828.1 3378.3 L1842.6 3355.0 L1857.1 3332.3 L1871.5 3310.3 L1886.0 3289.2 L1900.5 3269.1 L1915.0 3250.1 L1929.5 3232.3 L1944.0 3215.9 L1958.5 3200.9 L1973.0 3187.4 L1987.5 3175.6 L2002.0 3165.5 L2016.4 3157.1 L2030.9 3150.5 L2045.4 3145.8 L2059.9 3142.9 L2074.4 3142.0 L2087.0 3142.6 L2099.5 3144.3 L2112.1 3147.2 L2124.7 3151.2 L2137.2 3156.2 L2149.8 3162.4 L2162.4 3169.6 L2175.0 3177.8 L2187.5 3186.9 L2200.1 3196.8 L2212.7 3207.6 L2225.2 3219.2 L2237.8 3231.4 L2250.4 3244.2 L2262.9 3257.6 L2275.5 3271.4 L2288.1 3285.5 L2300.7 3300.0 L2313.2 3314.6 L2325.8 3329.3" stroke="#edb120"/>
<path d="M297.3 3275.7 L309.4 3289.7 L321.5 3303.8 L333.5 3318.1 L345.6 3332.3 L357.7 3346.5 L369.8 3360.5 L381.9 3374.2 L394.0 3387.6 L406.1 3400.6 L418.2 3413.0 L430.3 3424.9 L442.4 3436.1 L454.5 3446.6 L466.6 3456.2 L478.7 3465.1 L490.8 3473.0 L502.9 3480.0 L515.0 3485.9 L527.1 3490.9 L539.2 3494.7 L551.3 3497.5 L563.4 3499.2 L575.5 3499.8 L585.2 3499.4 L595.0 3498.3 L604.7 3496.6 L614.4 3494.1 L624.1 3490.9 L633.9 3487.1 L643.6 3482.7 L653.3 3477.6 L663.1 3472.0 L672.8 3465.8 L682.5 3459.1 L692.3 3451.9 L702.0 3444.4 L711.7 3436.4 L721.5 3428.1 L731.2 3419.6 L740.9 3410.8 L750.6 3401.9 L760.4 3392.8 L770.1 3383.7 L779.8 3374.6 L789.6 3365.6 L799.3 3356.7 L809.0 3347.9 L818.8 3339.3 L828.5 3331.1 L838.2 3323.1 L847.9 3315.5 L857.7 3308.4 L867.4 3301.7 L877.1 3295.5 L886.9 3289.9 L896.6 3284.8 L906.3 3280.4 L916.1 3276.5 L925.8 3273.4 L935.5 3270.9 L945.2 3269.1 L955.0 3268.1 L964.7 3267.7 L977.7 3268.5 L990.6 3271.0 L1003.6 3275.0 L1016.5 3280.7 L1029.5 3287.9 L1042.4 3296.6 L1055.4 3306.7 L1068.3 3318.3 L1081.2 3331.2 L1094.2 3345.3 L1107.2 3360.5 L1120.1 3376.9 L1133.0 3394.2 L1146.0 3412.3 L1159.0 3431.2 L1171.9 3450.7 L1184.9 3470.7 L1197.8 3491.1 L1210.8 3511.8 L1223.7 3532.5 L1236.7 3553.3 L1249.6 3574.0 L1262.5 3594.4 L1275.5 3614.4 L1288.5 3633.9 L1301.4 3652.8 L1314.4 3670.9 L1327.3 3688.2 L1340.2 3704.5 L1353.2 3719.8 L1366.2 3733.9 L1379.1 3746.8 L1392.0 3758.3 L1405.0 3768.5 L1418.0 3777.2 L1430.9 3784.4 L1443.9 3790.0 L1456.8 3794.1 L1469.8 3796.5 L1482.7 3797.4 L1497.6 3796.3 L1512.4 3793.2 L1527.3 3787.9 L1542.1 3780.7 L1557.0 3771.4 L1571.8 3760.2 L1586.7 3747.1 L1601.6 3732.2 L1616.4 3715.6 L1631.3 3697.4 L1646.1 3677.7 L1661.0 3656.6 L1675.8 3634.3 L1690.7 3611.0 L1705.6 3586.6 L1720.4 3561.5 L1735.3 3535.7 L1750.1 3509.4 L1765.0 3482.8 L1779.8 3456.0 L1794.7 3429.2 L1809.6 3402.6 L1824.4 3376.3 L1839.3 3350.5 L1854.1 3325.3 L1869.0 3301.0 L1883.9 3277.6 L1898.7 3255.3 L1913.6 3234.2 L1928.4 3214.6 L1943.3 3196.4 L1958.1 3179.8 L1973.0 3164.9 L1987.9 3151.8 L2002.7 3140.6 L2017.6 3131.3 L2032.4 3124.0 L2047.3 3118.8 L2062.1 3115.6 L2077.0 3114.6 L2089.1 3115.1 L2101.2 3116.9 L2113.3 3119.7 L2125.4 3123.7 L2137.5 3128.7 L2149.6 3134.8 L2161.7 3142.0 L2173.8 3150.1 L2185.9 3159.1 L2198.0 3169.0 L2210.1 3179.7 L2222.2 3191.2 L2234.3 3203.3 L2246.4 3216.1 L2258.5 3229.3 L2270.6 3243.0 L2282.7 3257.0 L2294.8 3271.4 L2306.9 3285.9 L2318.9 3300.4 L2331.0 3315.0" stroke="#7e2f8e"/>
<path d="M291.4 3303.3 L303.8 3318.8 L316.2 3334.2 L328.5 3349.6 L340.9 3364.8 L353.2 3379.7 L365.6 3394.2 L378.0 3408.2 L390.3 3421.7 L402.7 3434.6 L415.0 3446.7 L427.4 3458.1 L439.8 3468.6 L452.1 3478.2 L464.5 3486.8 L476.8 3494.3 L489.2 3500.8 L501.6 3506.2 L513.9 3510.4 L526.3 3513.4 L538.6 3515.2 L551.0 3515.8 L560.5 3515.4 L570.0 3514.3 L579.6 3512.5 L589.1 3509.9 L598.6 3506.6 L608.1 3502.7 L617.7 3498.0 L627.2 3492.8 L636.7 3486.9 L646.2 3480.5 L655.8 3473.5 L665.3 3466.1 L674.8 3458.2 L684.4 3449.9 L693.9 3441.3 L703.4 3432.4 L712.9 3423.3 L722.5 3414.0 L732.0 3404.6 L741.5 3395.1 L751.0 3385.6 L760.5 3376.2 L770.1 3366.9 L779.6 3357.8 L789.1 3348.9 L798.6 3340.3 L808.2 3332.0 L817.7 3324.2 L827.2 3316.7 L836.8 3309.8 L846.3 3303.3 L855.8 3297.5 L865.3 3292.2 L874.8 3287.6 L884.4 3283.6 L893.9 3280.3 L903.4 3277.7 L913.0 3275.9 L922.5 3274.8 L932.0 3274.4 L945.1 3275.2 L958.3 3277.7 L971.5 3281.8 L984.6 3287.6 L997.8 3294.9 L1010.9 3303.7 L1024.0 3314.0 L1037.2 3325.7 L1050.3 3338.8 L1063.5 3353.1 L1076.7 3368.6 L1089.8 3385.2 L1103.0 3402.8 L1116.1 3421.2 L1129.2 3440.4 L1142.4 3460.2 L1155.5 3480.5 L1168.7 3501.2 L1181.8 3522.1 L1195.0 3543.2 L1208.2 3564.3 L1221.3 3585.3 L1234.5 3606.0 L1247.6 3626.3 L1260.8 3646.1 L1273.9 3665.3 L1287.0 3683.7 L1300.2 3701.3 L1313.3 3717.8 L1326.5 3733.3 L1339.7 3747.7 L1352.8 3760.7 L1366.0 3772.5 L1379.1 3782.8 L1392.2 3791.6 L1405.4 3798.9 L1418.5 3804.6 L1431.7 3808.8 L1444.8 3811.2 L1458.0 3812.1 L1472.6 3810.9 L1487.2 3807.5 L1501.8 3801.9 L1516.4 3794.1 L1531.0 3784.1 L1545.6 3772.0 L1560.2 3757.9 L1574.8 3741.8 L1589.4 3723.9 L1604.0 3704.3 L1618.6 3683.1 L1633.2 3660.5 L1647.8 3636.4 L1662.4 3611.2 L1677.0 3585.0 L1691.6 3557.9 L1706.2 3530.1 L1720.8 3501.8 L1735.4 3473.1 L1750.0 3444.3 L1764.6 3415.4 L1779.2 3386.7 L1793.8 3358.4 L1808.4 3330.6 L1823.0 3303.5 L1837.6 3277.3 L1852.2 3252.1 L1866.8 3228.1 L1881.4 3205.4 L1896.0 3184.2 L1910.6 3164.6 L1925.2 3146.7 L1939.8 3130.7 L1954.4 3116.5 L1969.0 3104.4 L1983.6 3094.5 L1998.2 3086.6 L2012.8 3081.0 L2027.4 3077.6 L2042.0 3076.4 L2054.4 3077.1 L2066.7 3079.2 L2079.1 3082.6 L2091.4 3087.3 L2103.8 3093.3 L2116.2 3100.6 L2128.5 3109.1 L2140.9 3118.7 L2153.2 3129.5 L2165.6 3141.3 L2178.0 3154.0 L2190.3 3167.7 L2202.7 3182.1 L2215.0 3197.3 L2227.4 3213.1 L2239.8 3229.4 L2252.1 3246.1 L2264.5 3263.1 L2276.8 3280.4 L2289.2 3297.8 L2301.6 3315.1 L2313.9 3332.4 L2326.3 3349.4" stroke="#77ac30"/>
</g>
<rect x="318.6" y="3023.0" width="1985.4" height="802.5" fill="none" stroke="#000" stroke-width="7"/>
<path d="M487.2 3825.5 v-22.0 M487.2 3023.0 v22.0 M639.5 3825.5 v-22.0 M639.5 3023.0 v22.0 M808.2 3825.5 v-22.0 M808.2 3023.0 v22.0 M971.3 3825.5 v-22.0 M971.3 3023.0 v22.0 M1140.0 3825.5 v-22.0 M1140.0 3023.0 v22.0 M1303.1 3825.5 v-22.0 M1303.1 3023.0 v22.0 M1471.8 3825.5 v-22.0 M1471.8 3023.0 v22.0 M1640.4 3825.5 v-22.0 M1640.4 3023.0 v22.0 M1803.6 3825.5 v-22.0 M1803.6 3023.0 v22.0 M1972.2 3825.5 v-22.0 M1972.2 3023.0 v22.0 M2135.4 3825.5 v-22.0 M2135.4 3023.0 v22.0 M318.6 3691.7 h22.0 M2304.0 3691.7 h-22.0 M318.6 3557.9 h22.0 M2304.0 3557.9 h-22.0 M318.6 3424.2 h22.0 M2304.0 3424.2 h-22.0 M318.6 3290.4 h22.0 M2304.0 3290.4 h-22.0 M318.6 3156.7 h22.0 M2304.0 3156.7 h-22.0 " stroke="#000" stroke-width="7" fill="none"/>
<text x="318.6" y="3897.0" font-size="50.0" font-weight="bold" text-anchor="middle" fill="#000">Jan</text>
<text x="487.2" y="3897.0" font-size="50.0" font-weight="bold" text-anchor="middle" fill="#000">Feb</text>
<text x="639.5" y="3897.0" font-size="50.0" font-weight="bold" text-anchor="middle" fill="#000">Mar</text>
<text x="808.2" y="3897.0" font-size="50.0" font-weight="bold" text-anchor="middle" fill="#000">Apr</text>
<text x="971.3" y="3897.0" font-size="50.0" font-weight="bold" text-anchor="middle" fill="#000">May</text>
<text x="1140.0" y="3897.0" font-size="50.0" font-weight="bold" text-anchor="middle" fill="#000">Jun</text>
<text x="1303.1" y="3897.0" font-size="50.0" font-weight="bold" text-anchor="middle" fill="#000">Jul</text>
<text x="1471.8" y="3897.0" font-size="50.0" font-weight="bold" text-anchor="middle" fill="#000">Aug</text>
<text x="1640.4" y="3897.0" font-size="50.0" font-weight="bold" text-anchor="middle" fill="#000">Sep</text>
<text x="1803.6" y="3897.0" font-size="50.0" font-weight="bold" text-anchor="middle" fill="#000">Oct</text>
<text x="1972.2" y="3897.0" font-size="50.0" font-weight="bold" text-anchor="middle" fill="#000">Nov</text>
<text x="2135.4" y="3897.0" font-size="50.0" font-weight="bold" text-anchor="middle" fill="#000">Dec</text>
<text x="2304.0" y="3897.0" font-size="50.0" font-weight="bold" text-anchor="middle" fill="#000">Jan</text>
<text x="152.0" y="3845.4" font-size="50.0" font-weight="bold" text-anchor="start" fill="#000" textLength="41.0" lengthAdjust="spacingAndGlyphs">−</text>
<text x="301.0" y="3845.4" font-size="50.0" font-weight="bold" text-anchor="end" fill="#000">0.06</text>
<text x="152.0" y="3711.7" font-size="50.0" font-weight="bold" text-anchor="start" fill="#000" textLength="41.0" lengthAdjust="spacingAndGlyphs">−</text>
<text x="301.0" y="3711.7" font-size="50.0" font-weight="bold" text-anchor="end" fill="#000">0.04</text>
<text x="152.0" y="3577.9" font-size="50.0" font-weight="bold" text-anchor="start" fill="#000" textLength="41.0" lengthAdjust="spacingAndGlyphs">−</text>
<text x="301.0" y="3577.9" font-size="50.0" font-weight="bold" text-anchor="end" fill="#000">0.02</text>
<text x="301.0" y="3444.2" font-size="50.0" font-weight="bold" text-anchor="end" fill="#000">0</text>
<text x="301.0" y="3310.4" font-size="50.0" font-weight="bold" text-anchor="end" fill="#000">0.02</text>
<text x="301.0" y="3176.7" font-size="50.0" font-weight="bold" text-anchor="end" fill="#000">0.04</text>
<text x="301.0" y="3042.9" font-size="50.0" font-weight="bold" text-anchor="end" fill="#000">0.06</text>
<text x="1311.0" y="3011.0" font-size="50.0" font-weight="bold" text-anchor="middle" fill="#000" textLength="182.0" lengthAdjust="spacingAndGlyphs">CEOF 2</text>
<text x="1312.0" y="3968.0" font-size="50.0" font-weight="bold" text-anchor="middle" fill="#000">Time</text>
<text transform="translate(128,3428) rotate(-90)" font-size="56" font-weight="bold" text-anchor="middle" textLength="673" lengthAdjust="spacingAndGlyphs">Reconstructed SSHA (m)</text>
<text x="419.5" y="3152.0" font-size="80.0" font-weight="bold" text-anchor="middle" fill="#000" textLength="101.0" lengthAdjust="spacingAndGlyphs">(d)</text>
<rect x="1942.5" y="3457.0" width="338.5" height="332.0" fill="#fff" stroke="#000" stroke-width="6"/>
<path d="M1958.5 3498.8 H2058" stroke="#0072bd" stroke-width="5.5"/>
<text x="2074.0" y="3516.8" font-size="50.0" font-weight="bold" text-anchor="start" fill="#000">Point 2</text>
<path d="M1958.5 3561.0 H2058" stroke="#d95319" stroke-width="5.5"/>
<text x="2074.0" y="3579.0" font-size="50.0" font-weight="bold" text-anchor="start" fill="#000">Point 7</text>
<path d="M1958.5 3624.0 H2058" stroke="#edb120" stroke-width="5.5"/>
<text x="2074.0" y="3642.0" font-size="50.0" font-weight="bold" text-anchor="start" fill="#000">Point 12</text>
<path d="M1958.5 3688.0 H2058" stroke="#7e2f8e" stroke-width="5.5"/>
<text x="2074.0" y="3706.0" font-size="50.0" font-weight="bold" text-anchor="start" fill="#000">Point 17</text>
<path d="M1958.5 3752.5 H2058" stroke="#77ac30" stroke-width="5.5"/>
<text x="2074.0" y="3770.5" font-size="50.0" font-weight="bold" text-anchor="start" fill="#000">Point 22</text>
</g>
</g>
</svg></body></html>
